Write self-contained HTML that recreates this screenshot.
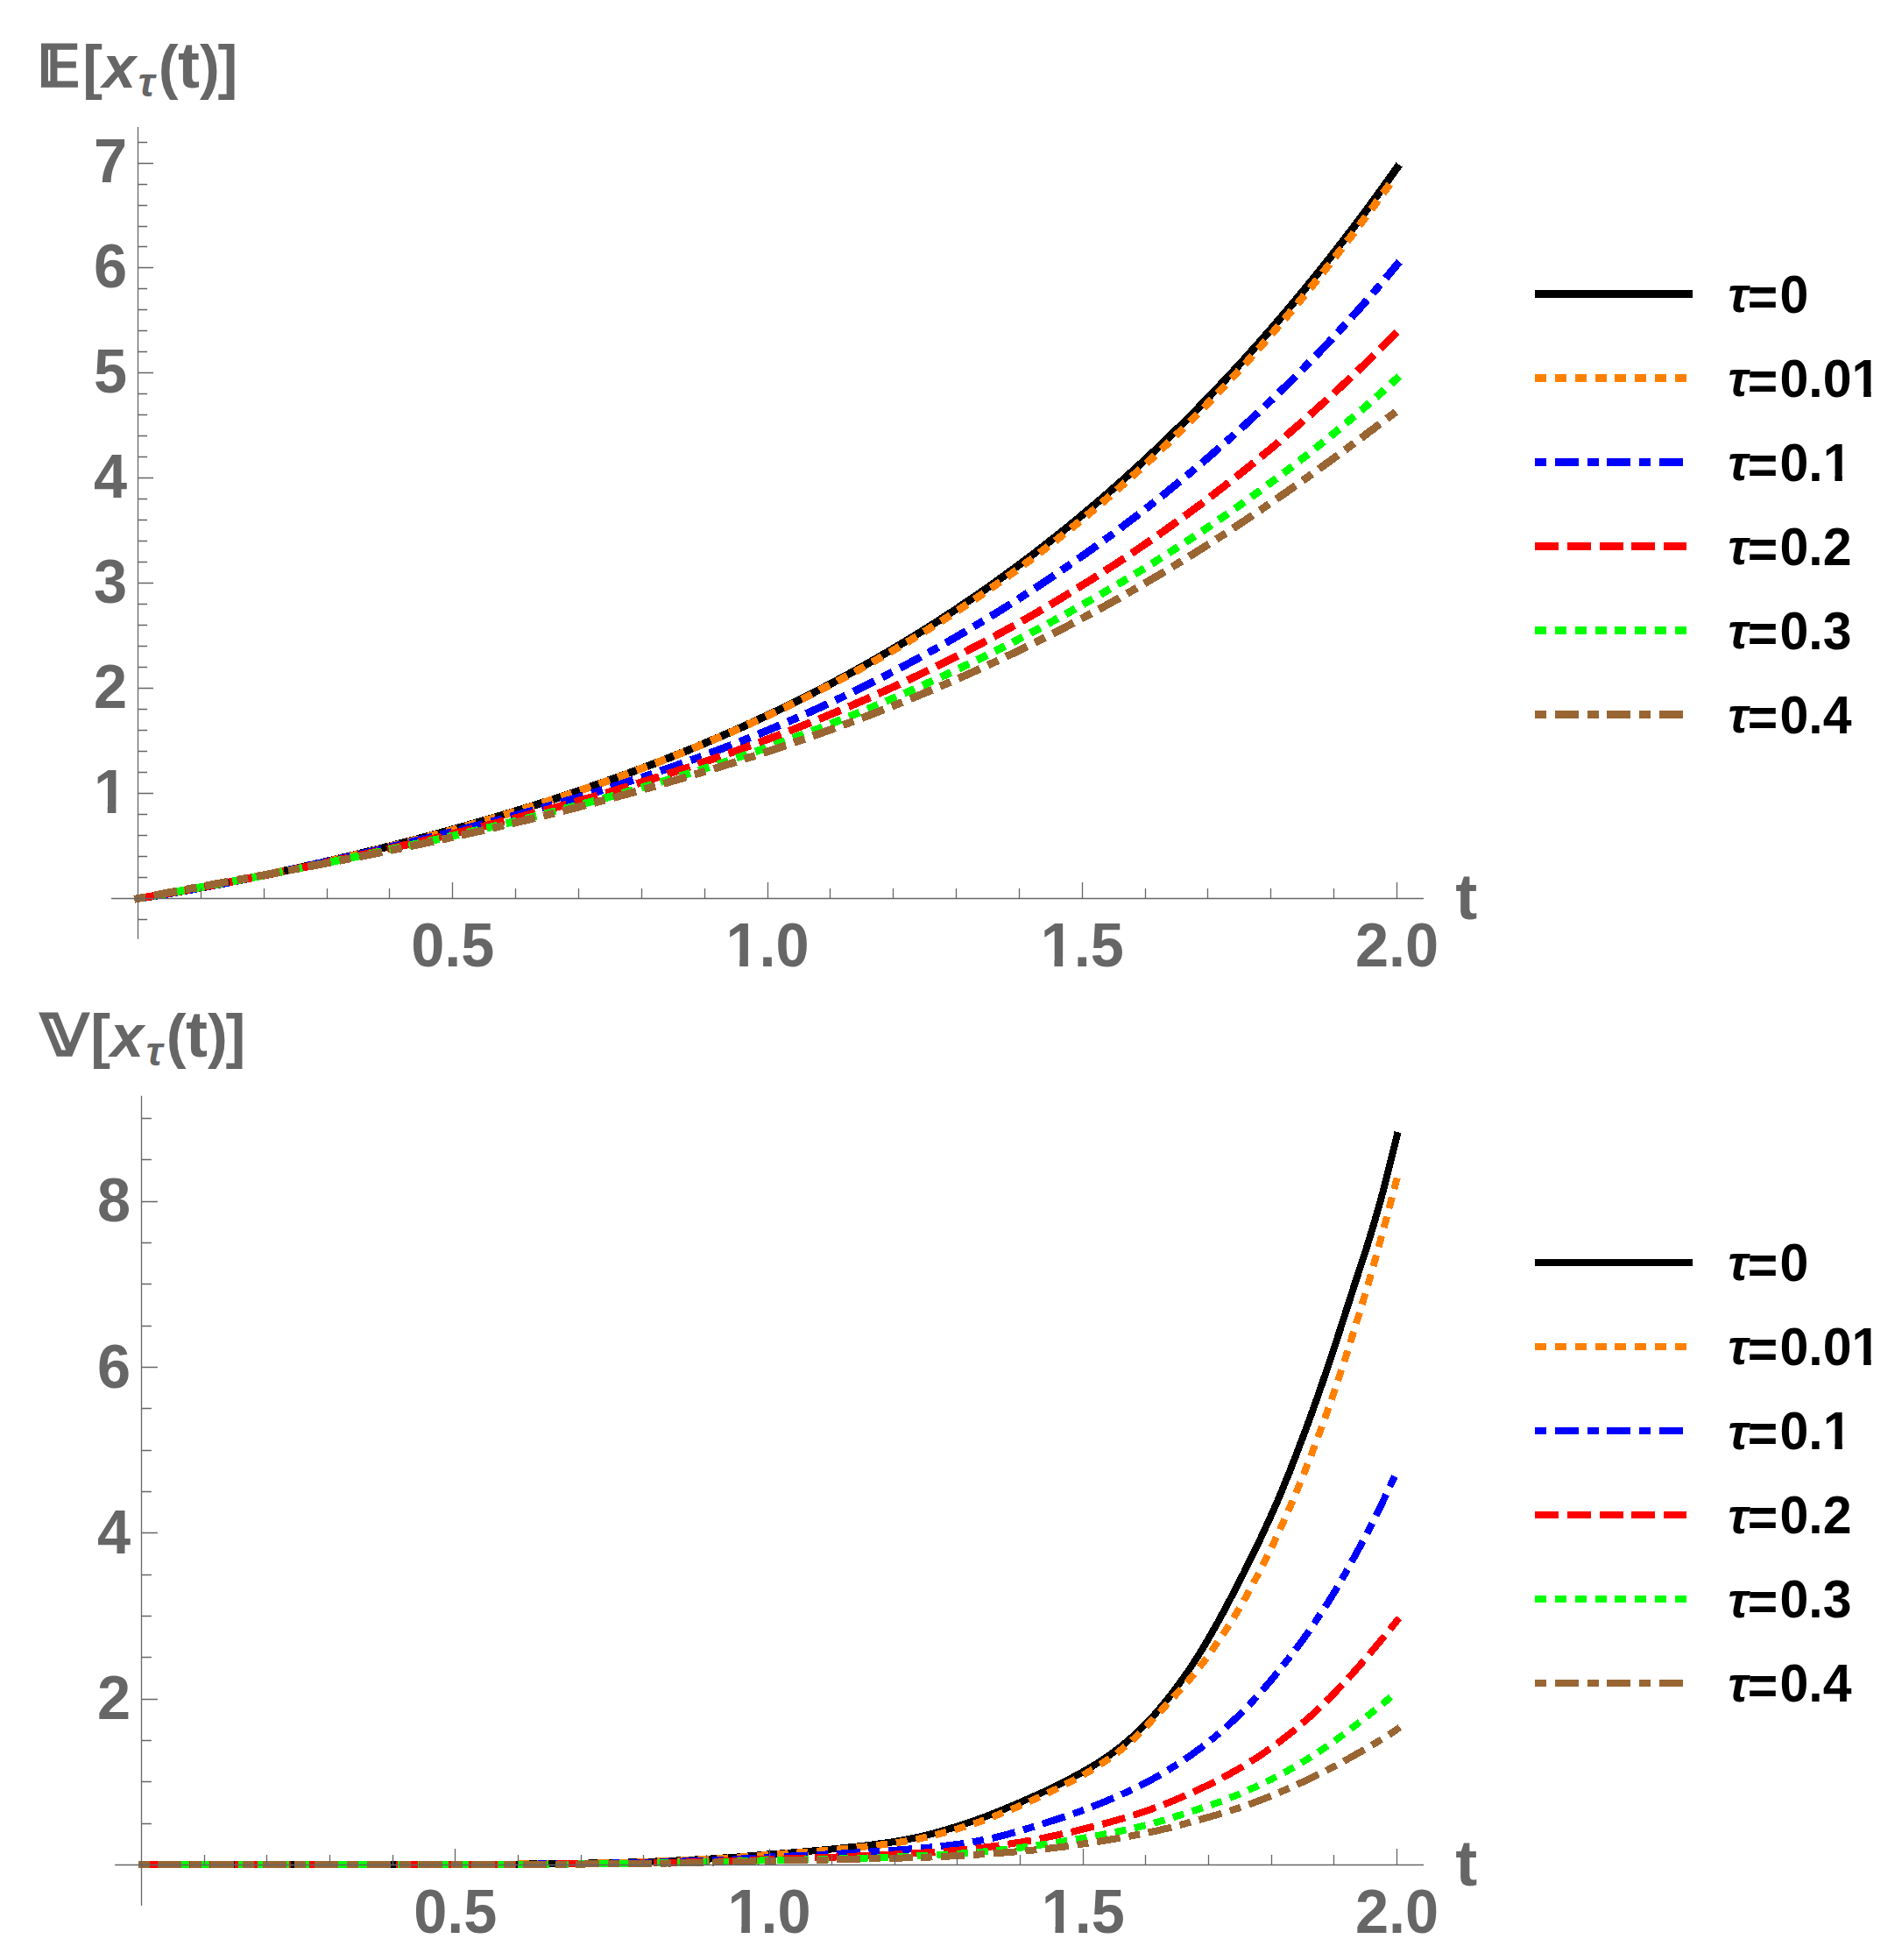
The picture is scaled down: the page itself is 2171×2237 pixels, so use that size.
<!DOCTYPE html>
<html lang="en"><head><meta charset="utf-8"><title>Mean and variance of x_tau(t)</title>
<style>html,body{margin:0;padding:0;background:#fff}svg{display:block}</style></head><body>
<svg width="2171" height="2237" viewBox="0 0 2171 2237">
<rect width="2171" height="2237" fill="#fff"/>
<defs></defs>
<g fill="none" stroke-width="8.8" stroke-linecap="square" stroke-linejoin="round" shape-rendering="crispEdges">
<polyline points="157.5,1025.5 162.0,1024.8 166.5,1024.1 171.0,1023.3 175.5,1022.6 180.0,1021.9 184.4,1021.1 188.9,1020.3 193.4,1019.6 197.9,1018.8 202.4,1018.0 206.9,1017.2 211.4,1016.4 215.9,1015.6 220.4,1014.8 224.9,1014.0 229.4,1013.1 233.8,1012.3 238.3,1011.4 242.8,1010.6 247.3,1009.7 251.8,1008.9 256.3,1008.0 260.8,1007.1 265.3,1006.2 269.8,1005.3 274.3,1004.4 278.7,1003.5 283.2,1002.6 287.7,1001.7 292.2,1000.8 296.7,999.9 301.2,998.9 305.7,998.0 310.2,997.0 314.7,996.1 319.2,995.1 323.7,994.1 328.1,993.2 332.6,992.2 337.1,991.2 341.6,990.2 346.1,989.2 350.6,988.2 355.1,987.2 359.6,986.2 364.1,985.2 368.6,984.1 373.1,983.1 377.5,982.1 382.0,981.0 386.5,980.0 391.0,978.9 395.5,977.8 400.0,976.8 404.5,975.7 409.0,974.6 413.5,973.5 418.0,972.4 422.4,971.3 426.9,970.2 431.4,969.1 435.9,968.0 440.4,966.8 444.9,965.7 449.4,964.6 453.9,963.4 458.4,962.3 462.9,961.1 467.4,959.9 471.8,958.8 476.3,957.6 480.8,956.4 485.3,955.2 489.8,954.0 494.3,952.8 498.8,951.6 503.3,950.4 507.8,949.1 512.3,947.9 516.8,946.6 521.2,945.4 525.7,944.1 530.2,942.9 534.7,941.6 539.2,940.3 543.7,939.0 548.2,937.7 552.7,936.4 557.2,935.1 561.7,933.8 566.1,932.5 570.6,931.1 575.1,929.8 579.6,928.4 584.1,927.1 588.6,925.7 593.1,924.3 597.6,923.0 602.1,921.6 606.6,920.2 611.1,918.7 615.5,917.3 620.0,915.9 624.5,914.5 629.0,913.0 633.5,911.6 638.0,910.1 642.5,908.6 647.0,907.1 651.5,905.6 656.0,904.1 660.5,902.6 664.9,901.1 669.4,899.6 673.9,898.0 678.4,896.5 682.9,894.9 687.4,893.3 691.9,891.7 696.4,890.1 700.9,888.5 705.4,886.9 709.8,885.3 714.3,883.7 718.8,882.0 723.3,880.3 727.8,878.7 732.3,877.0 736.8,875.3 741.3,873.6 745.8,871.9 750.3,870.1 754.8,868.4 759.2,866.6 763.7,864.9 768.2,863.1 772.7,861.3 777.2,859.5 781.7,857.7 786.2,855.9 790.7,854.0 795.2,852.2 799.7,850.3 804.1,848.4 808.6,846.5 813.1,844.6 817.6,842.7 822.1,840.8 826.6,838.8 831.1,836.8 835.6,834.9 840.1,832.9 844.6,830.9 849.1,828.9 853.5,826.8 858.0,824.8 862.5,822.7 867.0,820.6 871.5,818.5 876.0,816.4 880.5,814.3 885.0,812.2 889.5,810.0 894.0,807.8 898.5,805.7 902.9,803.5 907.4,801.2 911.9,799.0 916.4,796.8 920.9,794.5 925.4,792.2 929.9,789.9 934.4,787.6 938.9,785.3 943.4,782.9 947.9,780.6 952.3,778.2 956.8,775.8 961.3,773.4 965.8,770.9 970.3,768.5 974.8,766.0 979.3,763.5 983.8,761.0 988.3,758.5 992.8,755.9 997.2,753.4 1001.7,750.8 1006.2,748.2 1010.7,745.6 1015.2,742.9 1019.7,740.3 1024.2,737.6 1028.7,734.9 1033.2,732.2 1037.7,729.5 1042.2,726.7 1046.6,724.0 1051.1,721.2 1055.6,718.3 1060.1,715.5 1064.6,712.7 1069.1,709.8 1073.6,706.9 1078.1,704.0 1082.6,701.0 1087.1,698.1 1091.6,695.1 1096.0,692.1 1100.5,689.1 1105.0,686.0 1109.5,683.0 1114.0,679.9 1118.5,676.8 1123.0,673.7 1127.5,670.5 1132.0,667.3 1136.5,664.1 1140.9,660.9 1145.4,657.7 1149.9,654.4 1154.4,651.1 1158.9,647.8 1163.4,644.5 1167.9,641.1 1172.4,637.7 1176.9,634.3 1181.4,630.9 1185.9,627.4 1190.3,624.0 1194.8,620.4 1199.3,616.9 1203.8,613.4 1208.3,609.8 1212.8,606.2 1217.3,602.6 1221.8,598.9 1226.3,595.2 1230.8,591.5 1235.2,587.8 1239.7,584.0 1244.2,580.3 1248.7,576.5 1253.2,572.6 1257.7,568.8 1262.2,564.9 1266.7,561.0 1271.2,557.0 1275.7,553.1 1280.2,549.1 1284.6,545.0 1289.1,541.0 1293.6,536.9 1298.1,532.8 1302.6,528.7 1307.1,524.5 1311.6,520.3 1316.1,516.1 1320.6,511.9 1325.1,507.6 1329.6,503.3 1334.0,498.9 1338.5,494.6 1343.0,490.2 1347.5,485.8 1352.0,481.3 1356.5,476.8 1361.0,472.3 1365.5,467.8 1370.0,463.2 1374.5,458.6 1379.0,454.0 1383.4,449.3 1387.9,444.6 1392.4,439.9 1396.9,435.1 1401.4,430.3 1405.9,425.5 1410.4,420.7 1414.9,415.8 1419.4,410.9 1423.9,405.9 1428.3,400.9 1432.8,395.9 1437.3,390.9 1441.8,385.8 1446.3,380.7 1450.8,375.5 1455.3,370.3 1459.8,365.1 1464.3,359.8 1468.8,354.6 1473.3,349.2 1477.7,343.9 1482.2,338.5 1486.7,333.0 1491.2,327.6 1495.7,322.1 1500.2,316.5 1504.7,311.0 1509.2,305.4 1513.7,299.7 1518.2,294.0 1522.7,288.3 1527.1,282.6 1531.6,276.8 1536.1,270.9 1540.6,265.1 1545.1,259.2 1549.6,253.2 1554.1,247.2 1558.6,241.2 1563.1,235.1 1567.6,229.0 1572.0,222.9 1576.5,216.7 1581.0,210.5 1585.5,204.2 1590.0,197.9 1594.5,191.6" stroke="#000000"/>
<polyline points="157.5,1025.5 162.0,1024.7 166.5,1024.0 171.0,1023.2 175.5,1022.4 180.0,1021.6 184.4,1020.8 188.9,1020.0 193.4,1019.2 197.9,1018.4 202.4,1017.6 206.9,1016.8 211.4,1016.0 215.9,1015.2 220.4,1014.4 224.9,1013.5 229.4,1012.7 233.8,1011.9 238.3,1011.0 242.8,1010.2 247.3,1009.3 251.8,1008.5 256.3,1007.6 260.8,1006.7 265.3,1005.9 269.8,1005.0 274.3,1004.1 278.7,1003.2 283.2,1002.3 287.7,1001.4 292.2,1000.5 296.7,999.6 301.2,998.7 305.7,997.8 310.2,996.9 314.7,995.9 319.2,995.0 323.7,994.1 328.1,993.1 332.6,992.2 337.1,991.2 341.6,990.2 346.1,989.2 350.6,988.3 355.1,987.3 359.6,986.3 364.1,985.3 368.6,984.3 373.1,983.3 377.5,982.3 382.0,981.2 386.5,980.2 391.0,979.2 395.5,978.1 400.0,977.1 404.5,976.0 409.0,974.9 413.5,973.9 418.0,972.8 422.4,971.7 426.9,970.6 431.4,969.5 435.9,968.4 440.4,967.3 444.9,966.1 449.4,965.0 453.9,963.9 458.4,962.7 462.9,961.6 467.4,960.4 471.8,959.2 476.3,958.1 480.8,956.9 485.3,955.7 489.8,954.5 494.3,953.3 498.8,952.1 503.3,950.9 507.8,949.6 512.3,948.4 516.8,947.2 521.2,945.9 525.7,944.6 530.2,943.4 534.7,942.1 539.2,940.8 543.7,939.5 548.2,938.2 552.7,936.9 557.2,935.6 561.7,934.3 566.1,932.9 570.6,931.6 575.1,930.2 579.6,928.9 584.1,927.5 588.6,926.1 593.1,924.7 597.6,923.4 602.1,921.9 606.6,920.5 611.1,919.1 615.5,917.7 620.0,916.2 624.5,914.8 629.0,913.3 633.5,911.9 638.0,910.4 642.5,908.9 647.0,907.4 651.5,905.9 656.0,904.4 660.5,902.9 664.9,901.3 669.4,899.8 673.9,898.2 678.4,896.7 682.9,895.1 687.4,893.5 691.9,891.9 696.4,890.3 700.9,888.7 705.4,887.1 709.8,885.5 714.3,883.8 718.8,882.2 723.3,880.5 727.8,878.8 732.3,877.1 736.8,875.4 741.3,873.7 745.8,872.0 750.3,870.3 754.8,868.5 759.2,866.8 763.7,865.0 768.2,863.2 772.7,861.5 777.2,859.7 781.7,857.8 786.2,856.0 790.7,854.2 795.2,852.3 799.7,850.5 804.1,848.6 808.6,846.7 813.1,844.8 817.6,842.9 822.1,841.0 826.6,839.1 831.1,837.1 835.6,835.2 840.1,833.2 844.6,831.2 849.1,829.2 853.5,827.2 858.0,825.2 862.5,823.1 867.0,821.1 871.5,819.0 876.0,816.9 880.5,814.8 885.0,812.7 889.5,810.6 894.0,808.4 898.5,806.3 902.9,804.1 907.4,801.9 911.9,799.7 916.4,797.5 920.9,795.3 925.4,793.1 929.9,790.8 934.4,788.5 938.9,786.2 943.4,783.9 947.9,781.6 952.3,779.3 956.8,776.9 961.3,774.5 965.8,772.2 970.3,769.8 974.8,767.3 979.3,764.9 983.8,762.4 988.3,760.0 992.8,757.5 997.2,755.0 1001.7,752.4 1006.2,749.9 1010.7,747.3 1015.2,744.8 1019.7,742.2 1024.2,739.5 1028.7,736.9 1033.2,734.3 1037.7,731.6 1042.2,728.9 1046.6,726.2 1051.1,723.5 1055.6,720.7 1060.1,717.9 1064.6,715.1 1069.1,712.3 1073.6,709.5 1078.1,706.7 1082.6,703.8 1087.1,700.9 1091.6,698.0 1096.0,695.0 1100.5,692.1 1105.0,689.1 1109.5,686.1 1114.0,683.1 1118.5,680.1 1123.0,677.0 1127.5,673.9 1132.0,670.8 1136.5,667.7 1140.9,664.5 1145.4,661.3 1149.9,658.1 1154.4,654.9 1158.9,651.7 1163.4,648.4 1167.9,645.1 1172.4,641.8 1176.9,638.5 1181.4,635.1 1185.9,631.7 1190.3,628.3 1194.8,624.8 1199.3,621.4 1203.8,617.9 1208.3,614.4 1212.8,610.8 1217.3,607.3 1221.8,603.7 1226.3,600.1 1230.8,596.4 1235.2,592.7 1239.7,589.0 1244.2,585.3 1248.7,581.6 1253.2,577.8 1257.7,574.0 1262.2,570.1 1266.7,566.3 1271.2,562.4 1275.7,558.5 1280.2,554.5 1284.6,550.6 1289.1,546.6 1293.6,542.5 1298.1,538.5 1302.6,534.4 1307.1,530.3 1311.6,526.1 1316.1,521.9 1320.6,517.7 1325.1,513.5 1329.6,509.2 1334.0,504.9 1338.5,500.6 1343.0,496.2 1347.5,491.8 1352.0,487.4 1356.5,483.0 1361.0,478.5 1365.5,474.0 1370.0,469.4 1374.5,464.8 1379.0,460.2 1383.4,455.6 1387.9,450.9 1392.4,446.2 1396.9,441.5 1401.4,436.7 1405.9,431.9 1410.4,427.1 1414.9,422.2 1419.4,417.3 1423.9,412.4 1428.3,407.4 1432.8,402.4 1437.3,397.3 1441.8,392.3 1446.3,387.2 1450.8,382.0 1455.3,376.8 1459.8,371.6 1464.3,366.4 1468.8,361.1 1473.3,355.8 1477.7,350.4 1482.2,345.1 1486.7,339.6 1491.2,334.2 1495.7,328.7 1500.2,323.2 1504.7,317.6 1509.2,312.0 1513.7,306.4 1518.2,300.7 1522.7,295.0 1527.1,289.2 1531.6,283.5 1536.1,277.6 1540.6,271.8 1545.1,265.9 1549.6,260.0 1554.1,254.0 1558.6,248.0 1563.1,242.0 1567.6,235.9 1572.0,229.8 1576.5,223.6 1581.0,217.4 1585.5,211.2 1590.0,205.0 1594.5,198.7" stroke="#ff8000" stroke-dasharray="4.20 18.60"/>
<polyline points="157.5,1025.5 162.0,1024.8 166.5,1024.1 171.0,1023.4 175.5,1022.7 180.0,1022.0 184.4,1021.2 188.9,1020.5 193.4,1019.7 197.9,1018.9 202.4,1018.1 206.9,1017.3 211.4,1016.5 215.9,1015.7 220.4,1014.9 224.9,1014.1 229.4,1013.3 233.8,1012.4 238.3,1011.6 242.8,1010.7 247.3,1009.8 251.8,1009.0 256.3,1008.1 260.8,1007.2 265.3,1006.3 269.8,1005.4 274.3,1004.5 278.7,1003.6 283.2,1002.7 287.7,1001.8 292.2,1000.8 296.7,999.9 301.2,999.0 305.7,998.0 310.2,997.1 314.7,996.1 319.2,995.2 323.7,994.2 328.1,993.3 332.6,992.3 337.1,991.3 341.6,990.4 346.1,989.4 350.6,988.4 355.1,987.4 359.6,986.4 364.1,985.4 368.6,984.4 373.1,983.4 377.5,982.4 382.0,981.4 386.5,980.4 391.0,979.4 395.5,978.4 400.0,977.3 404.5,976.3 409.0,975.3 413.5,974.2 418.0,973.2 422.4,972.2 426.9,971.1 431.4,970.1 435.9,969.0 440.4,967.9 444.9,966.9 449.4,965.8 453.9,964.7 458.4,963.7 462.9,962.6 467.4,961.5 471.8,960.4 476.3,959.3 480.8,958.2 485.3,957.1 489.8,956.0 494.3,954.9 498.8,953.8 503.3,952.7 507.8,951.6 512.3,950.5 516.8,949.3 521.2,948.2 525.7,947.0 530.2,945.9 534.7,944.7 539.2,943.6 543.7,942.4 548.2,941.3 552.7,940.1 557.2,938.9 561.7,937.7 566.1,936.5 570.6,935.3 575.1,934.1 579.6,932.9 584.1,931.7 588.6,930.5 593.1,929.2 597.6,928.0 602.1,926.8 606.6,925.5 611.1,924.3 615.5,923.0 620.0,921.7 624.5,920.4 629.0,919.2 633.5,917.9 638.0,916.6 642.5,915.3 647.0,913.9 651.5,912.6 656.0,911.3 660.5,909.9 664.9,908.6 669.4,907.2 673.9,905.9 678.4,904.5 682.9,903.1 687.4,901.7 691.9,900.3 696.4,898.9 700.9,897.5 705.4,896.1 709.8,894.6 714.3,893.2 718.8,891.7 723.3,890.2 727.8,888.8 732.3,887.3 736.8,885.8 741.3,884.3 745.8,882.7 750.3,881.2 754.8,879.7 759.2,878.1 763.7,876.6 768.2,875.0 772.7,873.4 777.2,871.8 781.7,870.2 786.2,868.6 790.7,867.0 795.2,865.3 799.7,863.7 804.1,862.0 808.6,860.3 813.1,858.6 817.6,856.9 822.1,855.2 826.6,853.5 831.1,851.8 835.6,850.0 840.1,848.2 844.6,846.5 849.1,844.7 853.5,842.9 858.0,841.1 862.5,839.2 867.0,837.4 871.5,835.5 876.0,833.7 880.5,831.8 885.0,829.9 889.5,828.0 894.0,826.1 898.5,824.1 902.9,822.2 907.4,820.2 911.9,818.2 916.4,816.3 920.9,814.2 925.4,812.2 929.9,810.2 934.4,808.1 938.9,806.1 943.4,804.0 947.9,801.9 952.3,799.8 956.8,797.7 961.3,795.6 965.8,793.4 970.3,791.2 974.8,789.1 979.3,786.9 983.8,784.7 988.3,782.4 992.8,780.2 997.2,777.9 1001.7,775.7 1006.2,773.4 1010.7,771.1 1015.2,768.7 1019.7,766.4 1024.2,764.1 1028.7,761.7 1033.2,759.3 1037.7,756.9 1042.2,754.5 1046.6,752.1 1051.1,749.6 1055.6,747.2 1060.1,744.7 1064.6,742.2 1069.1,739.7 1073.6,737.1 1078.1,734.6 1082.6,732.0 1087.1,729.5 1091.6,726.9 1096.0,724.2 1100.5,721.6 1105.0,719.0 1109.5,716.3 1114.0,713.6 1118.5,710.9 1123.0,708.2 1127.5,705.5 1132.0,702.7 1136.5,700.0 1140.9,697.2 1145.4,694.4 1149.9,691.6 1154.4,688.7 1158.9,685.9 1163.4,683.0 1167.9,680.1 1172.4,677.2 1176.9,674.3 1181.4,671.3 1185.9,668.4 1190.3,665.4 1194.8,662.4 1199.3,659.4 1203.8,656.4 1208.3,653.3 1212.8,650.2 1217.3,647.1 1221.8,644.0 1226.3,640.9 1230.8,637.7 1235.2,634.6 1239.7,631.4 1244.2,628.2 1248.7,625.0 1253.2,621.7 1257.7,618.4 1262.2,615.2 1266.7,611.9 1271.2,608.5 1275.7,605.2 1280.2,601.8 1284.6,598.4 1289.1,595.0 1293.6,591.6 1298.1,588.1 1302.6,584.7 1307.1,581.2 1311.6,577.7 1316.1,574.1 1320.6,570.6 1325.1,567.0 1329.6,563.4 1334.0,559.8 1338.5,556.1 1343.0,552.4 1347.5,548.7 1352.0,545.0 1356.5,541.3 1361.0,537.5 1365.5,533.7 1370.0,529.9 1374.5,526.1 1379.0,522.2 1383.4,518.4 1387.9,514.4 1392.4,510.5 1396.9,506.6 1401.4,502.6 1405.9,498.6 1410.4,494.5 1414.9,490.5 1419.4,486.4 1423.9,482.3 1428.3,478.1 1432.8,473.9 1437.3,469.7 1441.8,465.5 1446.3,461.3 1450.8,457.0 1455.3,452.7 1459.8,448.3 1464.3,443.9 1468.8,439.5 1473.3,435.1 1477.7,430.6 1482.2,426.1 1486.7,421.6 1491.2,417.0 1495.7,412.4 1500.2,407.8 1504.7,403.2 1509.2,398.5 1513.7,393.7 1518.2,389.0 1522.7,384.2 1527.1,379.3 1531.6,374.5 1536.1,369.6 1540.6,364.6 1545.1,359.6 1549.6,354.6 1554.1,349.5 1558.6,344.4 1563.1,339.3 1567.6,334.1 1572.0,328.9 1576.5,323.6 1581.0,318.3 1585.5,313.0 1590.0,307.6 1594.5,302.1" stroke="#0000ff" stroke-dasharray="4.20 18.60 18.20 18.60"/>
<polyline points="157.5,1025.5 162.0,1024.8 166.5,1024.0 171.0,1023.2 175.5,1022.5 180.0,1021.7 184.4,1020.9 188.9,1020.2 193.4,1019.4 197.9,1018.6 202.4,1017.8 206.9,1017.0 211.4,1016.2 215.9,1015.4 220.4,1014.6 224.9,1013.7 229.4,1012.9 233.8,1012.1 238.3,1011.2 242.8,1010.4 247.3,1009.6 251.8,1008.7 256.3,1007.9 260.8,1007.0 265.3,1006.1 269.8,1005.3 274.3,1004.4 278.7,1003.5 283.2,1002.7 287.7,1001.8 292.2,1000.9 296.7,1000.0 301.2,999.1 305.7,998.2 310.2,997.3 314.7,996.4 319.2,995.5 323.7,994.6 328.1,993.7 332.6,992.7 337.1,991.8 341.6,990.9 346.1,990.0 350.6,989.0 355.1,988.1 359.6,987.1 364.1,986.2 368.6,985.2 373.1,984.3 377.5,983.3 382.0,982.4 386.5,981.4 391.0,980.4 395.5,979.5 400.0,978.5 404.5,977.5 409.0,976.5 413.5,975.5 418.0,974.5 422.4,973.6 426.9,972.6 431.4,971.5 435.9,970.5 440.4,969.5 444.9,968.5 449.4,967.5 453.9,966.5 458.4,965.4 462.9,964.4 467.4,963.4 471.8,962.3 476.3,961.3 480.8,960.2 485.3,959.2 489.8,958.1 494.3,957.1 498.8,956.0 503.3,954.9 507.8,953.8 512.3,952.8 516.8,951.7 521.2,950.6 525.7,949.5 530.2,948.4 534.7,947.3 539.2,946.2 543.7,945.1 548.2,943.9 552.7,942.8 557.2,941.7 561.7,940.5 566.1,939.4 570.6,938.3 575.1,937.1 579.6,935.9 584.1,934.8 588.6,933.6 593.1,932.4 597.6,931.3 602.1,930.1 606.6,928.9 611.1,927.7 615.5,926.5 620.0,925.3 624.5,924.1 629.0,922.8 633.5,921.6 638.0,920.4 642.5,919.1 647.0,917.9 651.5,916.6 656.0,915.4 660.5,914.1 664.9,912.8 669.4,911.5 673.9,910.3 678.4,909.0 682.9,907.7 687.4,906.3 691.9,905.0 696.4,903.7 700.9,902.4 705.4,901.0 709.8,899.7 714.3,898.3 718.8,897.0 723.3,895.6 727.8,894.2 732.3,892.8 736.8,891.4 741.3,890.0 745.8,888.6 750.3,887.2 754.8,885.8 759.2,884.4 763.7,882.9 768.2,881.5 772.7,880.0 777.2,878.5 781.7,877.1 786.2,875.6 790.7,874.1 795.2,872.6 799.7,871.0 804.1,869.5 808.6,868.0 813.1,866.5 817.6,864.9 822.1,863.3 826.6,861.8 831.1,860.2 835.6,858.6 840.1,857.0 844.6,855.4 849.1,853.8 853.5,852.1 858.0,850.5 862.5,848.8 867.0,847.2 871.5,845.5 876.0,843.8 880.5,842.1 885.0,840.4 889.5,838.7 894.0,837.0 898.5,835.3 902.9,833.5 907.4,831.8 911.9,830.0 916.4,828.2 920.9,826.4 925.4,824.6 929.9,822.8 934.4,821.0 938.9,819.1 943.4,817.3 947.9,815.4 952.3,813.6 956.8,811.7 961.3,809.8 965.8,807.9 970.3,806.0 974.8,804.0 979.3,802.1 983.8,800.1 988.3,798.1 992.8,796.2 997.2,794.2 1001.7,792.2 1006.2,790.1 1010.7,788.1 1015.2,786.1 1019.7,784.0 1024.2,781.9 1028.7,779.8 1033.2,777.7 1037.7,775.6 1042.2,773.5 1046.6,771.4 1051.1,769.2 1055.6,767.0 1060.1,764.8 1064.6,762.6 1069.1,760.4 1073.6,758.2 1078.1,756.0 1082.6,753.7 1087.1,751.5 1091.6,749.2 1096.0,746.9 1100.5,744.6 1105.0,742.2 1109.5,739.9 1114.0,737.5 1118.5,735.2 1123.0,732.8 1127.5,730.4 1132.0,728.0 1136.5,725.5 1140.9,723.1 1145.4,720.6 1149.9,718.2 1154.4,715.7 1158.9,713.2 1163.4,710.6 1167.9,708.1 1172.4,705.5 1176.9,703.0 1181.4,700.4 1185.9,697.8 1190.3,695.2 1194.8,692.5 1199.3,689.9 1203.8,687.2 1208.3,684.5 1212.8,681.8 1217.3,679.1 1221.8,676.3 1226.3,673.6 1230.8,670.8 1235.2,668.0 1239.7,665.2 1244.2,662.4 1248.7,659.6 1253.2,656.7 1257.7,653.8 1262.2,650.9 1266.7,648.0 1271.2,645.1 1275.7,642.1 1280.2,639.2 1284.6,636.2 1289.1,633.2 1293.6,630.2 1298.1,627.1 1302.6,624.1 1307.1,621.0 1311.6,617.9 1316.1,614.8 1320.6,611.6 1325.1,608.5 1329.6,605.3 1334.0,602.1 1338.5,598.9 1343.0,595.7 1347.5,592.4 1352.0,589.1 1356.5,585.9 1361.0,582.5 1365.5,579.2 1370.0,575.9 1374.5,572.5 1379.0,569.1 1383.4,565.7 1387.9,562.2 1392.4,558.8 1396.9,555.3 1401.4,551.8 1405.9,548.3 1410.4,544.7 1414.9,541.2 1419.4,537.6 1423.9,534.0 1428.3,530.4 1432.8,526.7 1437.3,523.0 1441.8,519.3 1446.3,515.6 1450.8,511.9 1455.3,508.1 1459.8,504.3 1464.3,500.5 1468.8,496.7 1473.3,492.8 1477.7,488.9 1482.2,485.0 1486.7,481.1 1491.2,477.1 1495.7,473.2 1500.2,469.2 1504.7,465.1 1509.2,461.1 1513.7,457.0 1518.2,452.9 1522.7,448.8 1527.1,444.6 1531.6,440.4 1536.1,436.2 1540.6,432.0 1545.1,427.7 1549.6,423.5 1554.1,419.1 1558.6,414.8 1563.1,410.4 1567.6,406.1 1572.0,401.6 1576.5,397.2 1581.0,392.7 1585.5,388.2 1590.0,383.7 1594.5,379.1" stroke="#ff0000" stroke-dasharray="18.20 18.60"/>
<polyline points="157.5,1025.5 162.0,1024.7 166.5,1023.9 171.0,1023.2 175.5,1022.4 180.0,1021.6 184.4,1020.8 188.9,1020.0 193.4,1019.2 197.9,1018.4 202.4,1017.5 206.9,1016.7 211.4,1015.9 215.9,1015.1 220.4,1014.3 224.9,1013.4 229.4,1012.6 233.8,1011.8 238.3,1010.9 242.8,1010.1 247.3,1009.3 251.8,1008.4 256.3,1007.6 260.8,1006.7 265.3,1005.9 269.8,1005.0 274.3,1004.1 278.7,1003.3 283.2,1002.4 287.7,1001.6 292.2,1000.7 296.7,999.8 301.2,999.0 305.7,998.1 310.2,997.2 314.7,996.3 319.2,995.4 323.7,994.6 328.1,993.7 332.6,992.8 337.1,991.9 341.6,991.0 346.1,990.1 350.6,989.2 355.1,988.3 359.6,987.4 364.1,986.5 368.6,985.6 373.1,984.7 377.5,983.8 382.0,982.8 386.5,981.9 391.0,981.0 395.5,980.1 400.0,979.2 404.5,978.2 409.0,977.3 413.5,976.4 418.0,975.4 422.4,974.5 426.9,973.5 431.4,972.6 435.9,971.6 440.4,970.7 444.9,969.7 449.4,968.8 453.9,967.8 458.4,966.8 462.9,965.9 467.4,964.9 471.8,963.9 476.3,963.0 480.8,962.0 485.3,961.0 489.8,960.0 494.3,959.0 498.8,958.0 503.3,957.0 507.8,956.0 512.3,955.0 516.8,954.0 521.2,953.0 525.7,951.9 530.2,950.9 534.7,949.9 539.2,948.8 543.7,947.8 548.2,946.7 552.7,945.7 557.2,944.6 561.7,943.6 566.1,942.5 570.6,941.5 575.1,940.4 579.6,939.3 584.1,938.2 588.6,937.1 593.1,936.0 597.6,934.9 602.1,933.8 606.6,932.7 611.1,931.6 615.5,930.5 620.0,929.3 624.5,928.2 629.0,927.1 633.5,925.9 638.0,924.8 642.5,923.6 647.0,922.4 651.5,921.3 656.0,920.1 660.5,918.9 664.9,917.7 669.4,916.5 673.9,915.3 678.4,914.1 682.9,912.9 687.4,911.6 691.9,910.4 696.4,909.2 700.9,907.9 705.4,906.7 709.8,905.4 714.3,904.1 718.8,902.9 723.3,901.6 727.8,900.3 732.3,899.0 736.8,897.7 741.3,896.4 745.8,895.0 750.3,893.7 754.8,892.4 759.2,891.0 763.7,889.7 768.2,888.3 772.7,886.9 777.2,885.5 781.7,884.2 786.2,882.8 790.7,881.4 795.2,879.9 799.7,878.5 804.1,877.1 808.6,875.6 813.1,874.2 817.6,872.7 822.1,871.3 826.6,869.8 831.1,868.3 835.6,866.8 840.1,865.3 844.6,863.8 849.1,862.3 853.5,860.7 858.0,859.2 862.5,857.6 867.0,856.1 871.5,854.5 876.0,852.9 880.5,851.3 885.0,849.7 889.5,848.1 894.0,846.5 898.5,844.9 902.9,843.2 907.4,841.6 911.9,839.9 916.4,838.2 920.9,836.6 925.4,834.9 929.9,833.2 934.4,831.5 938.9,829.7 943.4,828.0 947.9,826.3 952.3,824.5 956.8,822.7 961.3,821.0 965.8,819.2 970.3,817.4 974.8,815.6 979.3,813.7 983.8,811.9 988.3,810.1 992.8,808.2 997.2,806.4 1001.7,804.5 1006.2,802.6 1010.7,800.7 1015.2,798.8 1019.7,796.9 1024.2,794.9 1028.7,793.0 1033.2,791.0 1037.7,789.1 1042.2,787.1 1046.6,785.1 1051.1,783.1 1055.6,781.1 1060.1,779.1 1064.6,777.0 1069.1,775.0 1073.6,772.9 1078.1,770.8 1082.6,768.8 1087.1,766.7 1091.6,764.6 1096.0,762.4 1100.5,760.3 1105.0,758.2 1109.5,756.0 1114.0,753.8 1118.5,751.7 1123.0,749.5 1127.5,747.3 1132.0,745.0 1136.5,742.8 1140.9,740.6 1145.4,738.3 1149.9,736.0 1154.4,733.7 1158.9,731.5 1163.4,729.1 1167.9,726.8 1172.4,724.5 1176.9,722.1 1181.4,719.8 1185.9,717.4 1190.3,715.0 1194.8,712.6 1199.3,710.2 1203.8,707.8 1208.3,705.3 1212.8,702.9 1217.3,700.4 1221.8,697.9 1226.3,695.4 1230.8,692.9 1235.2,690.4 1239.7,687.9 1244.2,685.3 1248.7,682.7 1253.2,680.2 1257.7,677.6 1262.2,674.9 1266.7,672.3 1271.2,669.7 1275.7,667.0 1280.2,664.4 1284.6,661.7 1289.1,659.0 1293.6,656.3 1298.1,653.5 1302.6,650.8 1307.1,648.0 1311.6,645.3 1316.1,642.5 1320.6,639.7 1325.1,636.8 1329.6,634.0 1334.0,631.1 1338.5,628.3 1343.0,625.4 1347.5,622.5 1352.0,619.5 1356.5,616.6 1361.0,613.7 1365.5,610.7 1370.0,607.7 1374.5,604.7 1379.0,601.7 1383.4,598.6 1387.9,595.6 1392.4,592.5 1396.9,589.4 1401.4,586.3 1405.9,583.1 1410.4,580.0 1414.9,576.8 1419.4,573.6 1423.9,570.4 1428.3,567.2 1432.8,563.9 1437.3,560.7 1441.8,557.4 1446.3,554.1 1450.8,550.7 1455.3,547.4 1459.8,544.0 1464.3,540.6 1468.8,537.2 1473.3,533.8 1477.7,530.3 1482.2,526.8 1486.7,523.3 1491.2,519.8 1495.7,516.3 1500.2,512.7 1504.7,509.1 1509.2,505.5 1513.7,501.8 1518.2,498.2 1522.7,494.5 1527.1,490.8 1531.6,487.0 1536.1,483.3 1540.6,479.5 1545.1,475.7 1549.6,471.8 1554.1,468.0 1558.6,464.1 1563.1,460.1 1567.6,456.2 1572.0,452.2 1576.5,448.2 1581.0,444.2 1585.5,440.1 1590.0,436.0 1594.5,431.9" stroke="#00ff00" stroke-dasharray="4.20 18.60"/>
<polyline points="157.5,1025.5 162.0,1024.6 166.5,1023.8 171.0,1022.9 175.5,1022.0 180.0,1021.2 184.4,1020.3 188.9,1019.5 193.4,1018.6 197.9,1017.8 202.4,1016.9 206.9,1016.1 211.4,1015.3 215.9,1014.4 220.4,1013.6 224.9,1012.7 229.4,1011.9 233.8,1011.1 238.3,1010.3 242.8,1009.4 247.3,1008.6 251.8,1007.8 256.3,1006.9 260.8,1006.1 265.3,1005.3 269.8,1004.5 274.3,1003.6 278.7,1002.8 283.2,1002.0 287.7,1001.1 292.2,1000.3 296.7,999.5 301.2,998.7 305.7,997.8 310.2,997.0 314.7,996.1 319.2,995.3 323.7,994.5 328.1,993.6 332.6,992.8 337.1,991.9 341.6,991.1 346.1,990.2 350.6,989.4 355.1,988.5 359.6,987.7 364.1,986.8 368.6,985.9 373.1,985.1 377.5,984.2 382.0,983.3 386.5,982.4 391.0,981.6 395.5,980.7 400.0,979.8 404.5,978.9 409.0,978.0 413.5,977.1 418.0,976.2 422.4,975.3 426.9,974.4 431.4,973.5 435.9,972.6 440.4,971.7 444.9,970.7 449.4,969.8 453.9,968.9 458.4,967.9 462.9,967.0 467.4,966.1 471.8,965.1 476.3,964.2 480.8,963.2 485.3,962.2 489.8,961.3 494.3,960.3 498.8,959.3 503.3,958.4 507.8,957.4 512.3,956.4 516.8,955.4 521.2,954.4 525.7,953.4 530.2,952.4 534.7,951.4 539.2,950.4 543.7,949.3 548.2,948.3 552.7,947.3 557.2,946.2 561.7,945.2 566.1,944.2 570.6,943.1 575.1,942.0 579.6,941.0 584.1,939.9 588.6,938.8 593.1,937.8 597.6,936.7 602.1,935.6 606.6,934.5 611.1,933.4 615.5,932.3 620.0,931.2 624.5,930.1 629.0,929.0 633.5,927.8 638.0,926.7 642.5,925.6 647.0,924.4 651.5,923.3 656.0,922.1 660.5,921.0 664.9,919.8 669.4,918.6 673.9,917.5 678.4,916.3 682.9,915.1 687.4,913.9 691.9,912.7 696.4,911.5 700.9,910.3 705.4,909.1 709.8,907.8 714.3,906.6 718.8,905.4 723.3,904.1 727.8,902.9 732.3,901.6 736.8,900.4 741.3,899.1 745.8,897.8 750.3,896.5 754.8,895.2 759.2,893.9 763.7,892.6 768.2,891.3 772.7,890.0 777.2,888.7 781.7,887.4 786.2,886.0 790.7,884.7 795.2,883.3 799.7,882.0 804.1,880.6 808.6,879.3 813.1,877.9 817.6,876.5 822.1,875.1 826.6,873.7 831.1,872.3 835.6,870.9 840.1,869.5 844.6,868.0 849.1,866.6 853.5,865.1 858.0,863.7 862.5,862.2 867.0,860.8 871.5,859.3 876.0,857.8 880.5,856.3 885.0,854.8 889.5,853.3 894.0,851.8 898.5,850.2 902.9,848.7 907.4,847.2 911.9,845.6 916.4,844.0 920.9,842.5 925.4,840.9 929.9,839.3 934.4,837.7 938.9,836.1 943.4,834.5 947.9,832.9 952.3,831.2 956.8,829.6 961.3,827.9 965.8,826.3 970.3,824.6 974.8,822.9 979.3,821.2 983.8,819.5 988.3,817.8 992.8,816.1 997.2,814.3 1001.7,812.6 1006.2,810.8 1010.7,809.1 1015.2,807.3 1019.7,805.5 1024.2,803.7 1028.7,801.9 1033.2,800.1 1037.7,798.3 1042.2,796.4 1046.6,794.6 1051.1,792.7 1055.6,790.8 1060.1,789.0 1064.6,787.1 1069.1,785.2 1073.6,783.2 1078.1,781.3 1082.6,779.4 1087.1,777.4 1091.6,775.4 1096.0,773.5 1100.5,771.5 1105.0,769.5 1109.5,767.5 1114.0,765.4 1118.5,763.4 1123.0,761.3 1127.5,759.3 1132.0,757.2 1136.5,755.1 1140.9,753.0 1145.4,750.9 1149.9,748.7 1154.4,746.6 1158.9,744.5 1163.4,742.3 1167.9,740.1 1172.4,737.9 1176.9,735.7 1181.4,733.5 1185.9,731.2 1190.3,729.0 1194.8,726.7 1199.3,724.4 1203.8,722.2 1208.3,719.8 1212.8,717.5 1217.3,715.2 1221.8,712.8 1226.3,710.5 1230.8,708.1 1235.2,705.7 1239.7,703.3 1244.2,700.9 1248.7,698.5 1253.2,696.0 1257.7,693.6 1262.2,691.1 1266.7,688.6 1271.2,686.1 1275.7,683.6 1280.2,681.0 1284.6,678.5 1289.1,675.9 1293.6,673.3 1298.1,670.7 1302.6,668.1 1307.1,665.5 1311.6,662.9 1316.1,660.2 1320.6,657.6 1325.1,654.9 1329.6,652.2 1334.0,649.5 1338.5,646.7 1343.0,644.0 1347.5,641.2 1352.0,638.5 1356.5,635.7 1361.0,632.9 1365.5,630.1 1370.0,627.2 1374.5,624.4 1379.0,621.5 1383.4,618.7 1387.9,615.8 1392.4,612.9 1396.9,610.0 1401.4,607.0 1405.9,604.1 1410.4,601.1 1414.9,598.1 1419.4,595.2 1423.9,592.2 1428.3,589.1 1432.8,586.1 1437.3,583.1 1441.8,580.0 1446.3,576.9 1450.8,573.9 1455.3,570.8 1459.8,567.6 1464.3,564.5 1468.8,561.4 1473.3,558.2 1477.7,555.1 1482.2,551.9 1486.7,548.7 1491.2,545.5 1495.7,542.3 1500.2,539.1 1504.7,535.8 1509.2,532.6 1513.7,529.3 1518.2,526.1 1522.7,522.8 1527.1,519.5 1531.6,516.2 1536.1,512.9 1540.6,509.6 1545.1,506.3 1549.6,502.9 1554.1,499.6 1558.6,496.2 1563.1,492.8 1567.6,489.5 1572.0,486.1 1576.5,482.7 1581.0,479.3 1585.5,475.9 1590.0,472.5 1594.5,469.1" stroke="#996633" stroke-dasharray="4.20 18.60 18.20 18.60"/>
</g>
<g stroke="#666666" stroke-width="1.3" fill="none">
<line x1="127.1" y1="1025.5" x2="1625.0" y2="1025.5"/>
<line x1="157.5" y1="145.1" x2="157.5" y2="1071.8"/>
<path d="M229.50 1025.5v-11.5M301.50 1025.5v-11.5M373.50 1025.5v-11.5M444.50 1025.5v-11.5M516.50 1025.5v-18.5M588.50 1025.5v-11.5M660.50 1025.5v-11.5M732.50 1025.5v-11.5M804.50 1025.5v-11.5M876.50 1025.5v-18.5M947.50 1025.5v-11.5M1019.50 1025.5v-11.5M1091.50 1025.5v-11.5M1163.50 1025.5v-11.5M1235.50 1025.5v-18.5M1307.50 1025.5v-11.5M1378.50 1025.5v-11.5M1450.50 1025.5v-11.5M1522.50 1025.5v-11.5M1594.50 1025.5v-18.5M157.5 1049.50h10.6M157.5 1001.50h10.6M157.5 977.50h10.6M157.5 953.50h10.6M157.5 929.50h10.6M157.5 905.50h17.6M157.5 881.50h10.6M157.5 857.50h10.6M157.5 833.50h10.6M157.5 809.50h10.6M157.5 785.50h17.6M157.5 761.50h10.6M157.5 737.50h10.6M157.5 713.50h10.6M157.5 689.50h10.6M157.5 665.50h17.6M157.5 641.50h10.6M157.5 617.50h10.6M157.5 593.50h10.6M157.5 569.50h10.6M157.5 545.50h17.6M157.5 521.50h10.6M157.5 497.50h10.6M157.5 473.50h10.6M157.5 449.50h10.6M157.5 425.50h17.6M157.5 401.50h10.6M157.5 377.50h10.6M157.5 353.50h10.6M157.5 329.50h10.6M157.5 305.50h17.6M157.5 281.50h10.6M157.5 258.50h10.6M157.5 234.50h10.6M157.5 210.50h10.6M157.5 186.50h17.6M157.5 162.50h10.6"/>
</g>
<text transform="translate(469.14,1102.50) scale(1.0000,1.0400)" font-family="Liberation Sans, sans-serif" font-size="68.5" font-weight="bold" text-anchor="start" fill="#666666">0.5</text>
<text transform="translate(828.39,1102.50) scale(1.0000,1.0400)" font-family="Liberation Sans, sans-serif" font-size="68.5" font-weight="bold" text-anchor="start" fill="#666666">1.0</text>
<rect x="831.50" y="1094.33" width="12.72" height="9.07" fill="#fff"/>
<rect x="853.92" y="1094.33" width="11.85" height="9.07" fill="#fff"/>
<text transform="translate(1187.64,1102.50) scale(1.0000,1.0400)" font-family="Liberation Sans, sans-serif" font-size="68.5" font-weight="bold" text-anchor="start" fill="#666666">1.5</text>
<rect x="1190.75" y="1094.33" width="12.72" height="9.07" fill="#fff"/>
<rect x="1213.17" y="1094.33" width="11.85" height="9.07" fill="#fff"/>
<text transform="translate(1546.89,1102.50) scale(1.0000,1.0400)" font-family="Liberation Sans, sans-serif" font-size="68.5" font-weight="bold" text-anchor="start" fill="#666666">2.0</text>
<text transform="translate(106.90,927.98) scale(1.0000,1.0400)" font-family="Liberation Sans, sans-serif" font-size="68.5" font-weight="bold" text-anchor="start" fill="#666666">1</text>
<rect x="110.02" y="919.81" width="12.72" height="9.07" fill="#fff"/>
<rect x="132.44" y="919.81" width="11.85" height="9.07" fill="#fff"/>
<text transform="translate(106.90,808.06) scale(1.0000,1.0400)" font-family="Liberation Sans, sans-serif" font-size="68.5" font-weight="bold" text-anchor="start" fill="#666666">2</text>
<text transform="translate(106.90,688.14) scale(1.0000,1.0400)" font-family="Liberation Sans, sans-serif" font-size="68.5" font-weight="bold" text-anchor="start" fill="#666666">3</text>
<text transform="translate(106.90,568.22) scale(1.0000,1.0400)" font-family="Liberation Sans, sans-serif" font-size="68.5" font-weight="bold" text-anchor="start" fill="#666666">4</text>
<text transform="translate(106.90,448.30) scale(1.0000,1.0400)" font-family="Liberation Sans, sans-serif" font-size="68.5" font-weight="bold" text-anchor="start" fill="#666666">5</text>
<text transform="translate(106.90,328.38) scale(1.0000,1.0400)" font-family="Liberation Sans, sans-serif" font-size="68.5" font-weight="bold" text-anchor="start" fill="#666666">6</text>
<text transform="translate(106.90,208.46) scale(1.0000,1.0400)" font-family="Liberation Sans, sans-serif" font-size="68.5" font-weight="bold" text-anchor="start" fill="#666666">7</text>
<text transform="translate(1661.30,1048.70)" font-family="Liberation Sans, sans-serif" font-size="75" font-weight="bold" text-anchor="start" fill="#666666">t</text>
<g fill="none" stroke-width="8.8" stroke-linecap="butt" shape-rendering="crispEdges">
<line x1="1752" y1="335.40" x2="1932" y2="335.40" stroke="#000000"/>
<line x1="1752" y1="431.40" x2="1925" y2="431.40" stroke="#ff8000" stroke-dasharray="13 9.85"/>
<line x1="1752" y1="527.40" x2="1921" y2="527.40" stroke="#0000ff" stroke-dasharray="13 9.8 27 9.8"/>
<line x1="1752" y1="623.40" x2="1925" y2="623.40" stroke="#ff0000" stroke-dasharray="27 9.75"/>
<line x1="1752" y1="719.40" x2="1925" y2="719.40" stroke="#00ff00" stroke-dasharray="13 9.85"/>
<line x1="1752" y1="815.40" x2="1921" y2="815.40" stroke="#996633" stroke-dasharray="13 9.8 27 9.8"/>
</g>
<text transform="translate(0,356.50) scale(1,1.035)" font-family="Liberation Sans, sans-serif" font-size="59" font-weight="bold" fill="#000"><tspan x="1972.4" y="-0.58" font-style="italic" font-size="56">τ</tspan><tspan x="1994.65" y="2.90">=</tspan><tspan x="2031.56" y="0">0</tspan></text>
<text transform="translate(0,452.50) scale(1,1.035)" font-family="Liberation Sans, sans-serif" font-size="59" font-weight="bold" fill="#000"><tspan x="1972.4" y="-0.58" font-style="italic" font-size="56">τ</tspan><tspan x="1994.65" y="2.90">=</tspan><tspan x="2031.56" y="0">0.01</tspan></text>
<rect x="2116.10" y="445.37" width="11.10" height="8.03" fill="#fff"/>
<rect x="2135.60" y="445.37" width="10.35" height="8.03" fill="#fff"/>
<text transform="translate(0,548.50) scale(1,1.035)" font-family="Liberation Sans, sans-serif" font-size="59" font-weight="bold" fill="#000"><tspan x="1972.4" y="-0.58" font-style="italic" font-size="56">τ</tspan><tspan x="1994.65" y="2.90">=</tspan><tspan x="2031.56" y="0">0.1</tspan></text>
<rect x="2083.28" y="541.37" width="11.10" height="8.03" fill="#fff"/>
<rect x="2102.78" y="541.37" width="10.35" height="8.03" fill="#fff"/>
<text transform="translate(0,644.50) scale(1,1.035)" font-family="Liberation Sans, sans-serif" font-size="59" font-weight="bold" fill="#000"><tspan x="1972.4" y="-0.58" font-style="italic" font-size="56">τ</tspan><tspan x="1994.65" y="2.90">=</tspan><tspan x="2031.56" y="0">0.2</tspan></text>
<text transform="translate(0,740.50) scale(1,1.035)" font-family="Liberation Sans, sans-serif" font-size="59" font-weight="bold" fill="#000"><tspan x="1972.4" y="-0.58" font-style="italic" font-size="56">τ</tspan><tspan x="1994.65" y="2.90">=</tspan><tspan x="2031.56" y="0">0.3</tspan></text>
<text transform="translate(0,836.50) scale(1,1.035)" font-family="Liberation Sans, sans-serif" font-size="59" font-weight="bold" fill="#000"><tspan x="1972.4" y="-0.58" font-style="italic" font-size="56">τ</tspan><tspan x="1994.65" y="2.90">=</tspan><tspan x="2031.56" y="0">0.4</tspan></text>
<g fill="none" stroke-width="8.0" stroke-linecap="square" stroke-linejoin="round" shape-rendering="crispEdges">
<polyline points="161.5,2128.0 166.0,2128.0 170.5,2128.0 174.9,2128.0 179.4,2128.0 183.9,2128.0 188.4,2128.0 192.8,2128.0 197.3,2128.0 201.8,2128.0 206.3,2128.0 210.8,2128.0 215.2,2128.0 219.7,2128.0 224.2,2128.0 228.7,2128.0 233.2,2128.0 237.6,2128.0 242.1,2128.0 246.6,2128.0 251.1,2128.0 255.5,2128.0 260.0,2128.0 264.5,2128.0 269.0,2128.0 273.5,2128.0 277.9,2128.0 282.4,2128.0 286.9,2128.0 291.4,2128.0 295.8,2128.0 300.3,2128.0 304.8,2128.0 309.3,2128.0 313.8,2128.0 318.2,2128.0 322.7,2128.0 327.2,2128.0 331.7,2128.0 336.1,2128.0 340.6,2128.0 345.1,2128.0 349.6,2128.0 354.1,2128.0 358.5,2128.0 363.0,2128.0 367.5,2128.0 372.0,2128.0 376.5,2128.0 380.9,2128.0 385.4,2128.0 389.9,2128.0 394.4,2128.0 398.8,2128.0 403.3,2128.0 407.8,2128.0 412.3,2128.0 416.8,2128.0 421.2,2128.0 425.7,2128.0 430.2,2128.0 434.7,2128.0 439.1,2128.0 443.6,2128.0 448.1,2128.0 452.6,2127.9 457.1,2127.9 461.5,2127.9 466.0,2127.9 470.5,2127.9 475.0,2127.9 479.4,2127.9 483.9,2127.9 488.4,2127.9 492.9,2127.9 497.4,2127.9 501.8,2127.9 506.3,2127.9 510.8,2127.8 515.3,2127.8 519.8,2127.8 524.2,2127.8 528.7,2127.8 533.2,2127.8 537.7,2127.8 542.1,2127.7 546.6,2127.7 551.1,2127.7 555.6,2127.7 560.1,2127.7 564.5,2127.6 569.0,2127.6 573.5,2127.6 578.0,2127.5 582.4,2127.5 586.9,2127.5 591.4,2127.5 595.9,2127.4 600.4,2127.4 604.8,2127.3 609.3,2127.3 613.8,2127.3 618.3,2127.2 622.7,2127.2 627.2,2127.1 631.7,2127.1 636.2,2127.0 640.7,2127.0 645.1,2126.9 649.6,2126.8 654.1,2126.8 658.6,2126.7 663.1,2126.6 667.5,2126.5 672.0,2126.5 676.5,2126.4 681.0,2126.3 685.4,2126.2 689.9,2126.1 694.4,2126.0 698.9,2125.9 703.4,2125.8 707.8,2125.7 712.3,2125.6 716.8,2125.5 721.3,2125.3 725.7,2125.2 730.2,2125.1 734.7,2124.9 739.2,2124.8 743.7,2124.6 748.1,2124.5 752.6,2124.3 757.1,2124.1 761.6,2124.0 766.0,2123.8 770.5,2123.6 775.0,2123.4 779.5,2123.2 784.0,2123.0 788.4,2122.7 792.9,2122.5 797.4,2122.3 801.9,2122.0 806.4,2121.8 810.8,2121.5 815.3,2121.2 819.8,2120.9 824.3,2120.6 828.7,2120.3 833.2,2120.0 837.7,2119.7 842.2,2119.4 846.7,2119.0 851.1,2118.7 855.6,2118.3 860.1,2117.9 864.6,2117.5 869.0,2117.1 873.5,2116.7 878.0,2116.3 882.5,2116.0 887.0,2115.7 891.4,2115.4 895.9,2115.1 900.4,2114.7 904.9,2114.4 909.3,2114.0 913.8,2113.7 918.3,2113.3 922.8,2112.9 927.3,2112.5 931.7,2112.1 936.2,2111.7 940.7,2111.3 945.2,2110.9 949.7,2110.4 954.1,2110.0 958.6,2109.6 963.1,2109.1 967.6,2108.6 972.0,2108.2 976.5,2107.7 981.0,2107.2 985.5,2106.7 990.0,2106.1 994.4,2105.6 998.9,2105.0 1003.4,2104.4 1007.9,2103.8 1012.3,2103.2 1016.8,2102.6 1021.3,2101.9 1025.8,2101.2 1030.3,2100.4 1034.7,2099.5 1039.2,2098.6 1043.7,2097.7 1048.2,2096.7 1052.6,2095.7 1057.1,2094.6 1061.6,2093.5 1066.1,2092.3 1070.6,2091.0 1075.0,2089.7 1079.5,2088.4 1084.0,2087.1 1088.5,2085.8 1093.0,2084.4 1097.4,2082.9 1101.9,2081.4 1106.4,2079.9 1110.9,2078.4 1115.3,2076.8 1119.8,2075.2 1124.3,2073.5 1128.8,2071.8 1133.3,2070.0 1137.7,2068.2 1142.2,2066.4 1146.7,2064.6 1151.2,2062.7 1155.6,2060.9 1160.1,2059.0 1164.6,2057.0 1169.1,2055.0 1173.6,2053.0 1178.0,2051.0 1182.5,2049.0 1187.0,2047.0 1191.5,2045.0 1195.9,2042.9 1200.4,2040.7 1204.9,2038.5 1209.4,2036.3 1213.9,2034.0 1218.3,2031.7 1222.8,2029.4 1227.3,2027.0 1231.8,2024.6 1236.2,2022.1 1240.7,2019.5 1245.2,2016.9 1249.7,2014.2 1254.2,2011.3 1258.6,2008.4 1263.1,2005.4 1267.6,2002.3 1272.1,1999.0 1276.6,1995.6 1281.0,1992.1 1285.5,1988.4 1290.0,1984.5 1294.5,1980.5 1298.9,1976.3 1303.4,1971.9 1307.9,1967.4 1312.4,1962.7 1316.9,1957.9 1321.3,1952.8 1325.8,1947.6 1330.3,1942.1 1334.8,1936.5 1339.2,1930.7 1343.7,1924.7 1348.2,1918.6 1352.7,1912.3 1357.2,1905.8 1361.6,1899.1 1366.1,1892.2 1370.6,1885.0 1375.1,1877.5 1379.6,1869.9 1384.0,1862.1 1388.5,1854.2 1393.0,1846.1 1397.5,1837.9 1401.9,1829.5 1406.4,1820.9 1410.9,1812.3 1415.4,1803.6 1419.9,1794.7 1424.3,1785.8 1428.8,1776.7 1433.3,1767.5 1437.8,1758.1 1442.2,1748.6 1446.7,1738.9 1451.2,1729.0 1455.7,1718.9 1460.2,1708.5 1464.6,1697.8 1469.1,1686.8 1473.6,1675.6 1478.1,1664.1 1482.5,1652.4 1487.0,1640.6 1491.5,1628.7 1496.0,1616.4 1500.5,1603.9 1504.9,1591.2 1509.4,1578.3 1513.9,1565.3 1518.4,1552.1 1522.9,1538.6 1527.3,1524.8 1531.8,1510.8 1536.3,1496.8 1540.8,1483.0 1545.2,1469.1 1549.7,1455.3 1554.2,1441.5 1558.7,1427.8 1563.2,1413.5 1567.6,1398.7 1572.1,1383.3 1576.6,1367.2 1581.1,1350.4 1585.5,1332.9 1590.0,1314.9 1594.5,1296.1" stroke="#000000"/>
<polyline points="161.5,2128.0 166.0,2128.0 170.5,2128.0 174.9,2128.0 179.4,2128.0 183.9,2128.0 188.4,2128.0 192.8,2128.0 197.3,2128.0 201.8,2128.0 206.3,2128.0 210.8,2128.0 215.2,2128.0 219.7,2128.0 224.2,2128.0 228.7,2128.0 233.2,2128.0 237.6,2128.0 242.1,2128.0 246.6,2128.0 251.1,2128.0 255.5,2128.0 260.0,2128.0 264.5,2128.0 269.0,2128.0 273.5,2128.0 277.9,2128.0 282.4,2128.0 286.9,2128.0 291.4,2128.0 295.8,2128.0 300.3,2128.0 304.8,2128.0 309.3,2128.0 313.8,2128.0 318.2,2128.0 322.7,2128.0 327.2,2128.0 331.7,2128.0 336.1,2128.0 340.6,2128.0 345.1,2128.0 349.6,2128.0 354.1,2128.0 358.5,2128.0 363.0,2128.0 367.5,2128.0 372.0,2128.0 376.5,2128.0 380.9,2128.0 385.4,2128.0 389.9,2128.0 394.4,2128.0 398.8,2128.0 403.3,2128.0 407.8,2128.0 412.3,2128.0 416.8,2128.0 421.2,2128.0 425.7,2128.0 430.2,2128.0 434.7,2128.0 439.1,2128.0 443.6,2128.0 448.1,2128.0 452.6,2127.9 457.1,2127.9 461.5,2127.9 466.0,2127.9 470.5,2127.9 475.0,2127.9 479.4,2127.9 483.9,2127.9 488.4,2127.9 492.9,2127.9 497.4,2127.9 501.8,2127.9 506.3,2127.9 510.8,2127.8 515.3,2127.8 519.8,2127.8 524.2,2127.8 528.7,2127.8 533.2,2127.8 537.7,2127.8 542.1,2127.7 546.6,2127.7 551.1,2127.7 555.6,2127.7 560.1,2127.7 564.5,2127.6 569.0,2127.6 573.5,2127.6 578.0,2127.6 582.4,2127.5 586.9,2127.5 591.4,2127.5 595.9,2127.4 600.4,2127.4 604.8,2127.4 609.3,2127.3 613.8,2127.3 618.3,2127.2 622.7,2127.2 627.2,2127.1 631.7,2127.1 636.2,2127.0 640.7,2127.0 645.1,2126.9 649.6,2126.9 654.1,2126.8 658.6,2126.7 663.1,2126.7 667.5,2126.6 672.0,2126.5 676.5,2126.4 681.0,2126.4 685.4,2126.3 689.9,2126.2 694.4,2126.1 698.9,2126.0 703.4,2125.9 707.8,2125.8 712.3,2125.7 716.8,2125.6 721.3,2125.4 725.7,2125.3 730.2,2125.2 734.7,2125.0 739.2,2124.9 743.7,2124.8 748.1,2124.6 752.6,2124.4 757.1,2124.3 761.6,2124.1 766.0,2123.9 770.5,2123.7 775.0,2123.6 779.5,2123.4 784.0,2123.2 788.4,2122.9 792.9,2122.7 797.4,2122.5 801.9,2122.3 806.4,2122.0 810.8,2121.8 815.3,2121.5 819.8,2121.2 824.3,2120.9 828.7,2120.6 833.2,2120.3 837.7,2120.0 842.2,2119.7 846.7,2119.4 851.1,2119.0 855.6,2118.7 860.1,2118.3 864.6,2117.9 869.0,2117.5 873.5,2117.1 878.0,2116.7 882.5,2116.4 887.0,2116.2 891.4,2115.9 895.9,2115.5 900.4,2115.2 904.9,2114.9 909.3,2114.6 913.8,2114.2 918.3,2113.9 922.8,2113.5 927.3,2113.1 931.7,2112.8 936.2,2112.4 940.7,2112.0 945.2,2111.6 949.7,2111.2 954.1,2110.8 958.6,2110.4 963.1,2110.0 967.6,2109.6 972.0,2109.1 976.5,2108.7 981.0,2108.2 985.5,2107.8 990.0,2107.3 994.4,2106.8 998.9,2106.3 1003.4,2105.8 1007.9,2105.2 1012.3,2104.7 1016.8,2104.1 1021.3,2103.5 1025.8,2102.8 1030.3,2102.1 1034.7,2101.3 1039.2,2100.5 1043.7,2099.7 1048.2,2098.8 1052.6,2097.8 1057.1,2096.8 1061.6,2095.8 1066.1,2094.6 1070.6,2093.5 1075.0,2092.3 1079.5,2091.1 1084.0,2089.8 1088.5,2088.6 1093.0,2087.3 1097.4,2085.9 1101.9,2084.6 1106.4,2083.1 1110.9,2081.7 1115.3,2080.2 1119.8,2078.6 1124.3,2077.0 1128.8,2075.3 1133.3,2073.6 1137.7,2071.9 1142.2,2070.1 1146.7,2068.3 1151.2,2066.5 1155.6,2064.7 1160.1,2062.8 1164.6,2060.8 1169.1,2058.8 1173.6,2056.8 1178.0,2054.8 1182.5,2052.8 1187.0,2050.8 1191.5,2048.8 1195.9,2046.7 1200.4,2044.5 1204.9,2042.3 1209.4,2040.1 1213.9,2037.8 1218.3,2035.5 1222.8,2033.2 1227.3,2030.8 1231.8,2028.4 1236.2,2025.9 1240.7,2023.3 1245.2,2020.7 1249.7,2018.0 1254.2,2015.1 1258.6,2012.2 1263.1,2009.2 1267.6,2006.0 1272.1,2002.8 1276.6,1999.4 1281.0,1995.9 1285.5,1992.2 1290.0,1988.3 1294.5,1984.2 1298.9,1979.9 1303.4,1975.5 1307.9,1970.9 1312.4,1966.1 1316.9,1961.3 1321.3,1956.6 1325.8,1951.9 1330.3,1947.1 1334.8,1942.3 1339.2,1937.4 1343.7,1932.5 1348.2,1927.6 1352.7,1922.6 1357.2,1917.5 1361.6,1912.2 1366.1,1906.7 1370.6,1901.0 1375.1,1895.1 1379.6,1889.0 1384.0,1882.7 1388.5,1876.2 1393.0,1869.7 1397.5,1863.0 1401.9,1856.2 1406.4,1849.2 1410.9,1842.0 1415.4,1834.4 1419.9,1826.6 1424.3,1818.6 1428.8,1810.3 1433.3,1801.9 1437.8,1793.3 1442.2,1784.5 1446.7,1775.6 1451.2,1766.5 1455.7,1757.1 1460.2,1747.4 1464.6,1737.6 1469.1,1727.6 1473.6,1717.4 1478.1,1706.9 1482.5,1696.1 1487.0,1685.1 1491.5,1673.8 1496.0,1662.3 1500.5,1650.5 1504.9,1638.6 1509.4,1626.4 1513.9,1614.0 1518.4,1601.4 1522.9,1588.5 1527.3,1575.4 1531.8,1561.9 1536.3,1547.9 1540.8,1533.7 1545.2,1519.4 1549.7,1505.0 1554.2,1490.4 1558.7,1475.7 1563.2,1460.6 1567.6,1444.9 1572.1,1428.7 1576.6,1412.3 1581.1,1395.7 1585.5,1379.0 1590.0,1362.2 1594.5,1345.2" stroke="#ff8000" stroke-dasharray="5.00 17.80"/>
<polyline points="161.5,2128.0 166.0,2128.0 170.5,2128.0 174.9,2128.0 179.4,2128.0 183.9,2128.0 188.4,2128.0 192.8,2128.0 197.3,2128.0 201.8,2128.0 206.3,2128.0 210.8,2128.0 215.2,2128.0 219.7,2128.0 224.2,2128.0 228.7,2128.0 233.2,2128.0 237.6,2128.0 242.1,2128.0 246.6,2128.0 251.1,2128.0 255.5,2128.0 260.0,2128.0 264.5,2128.0 269.0,2128.0 273.5,2128.0 277.9,2128.0 282.4,2128.0 286.9,2128.0 291.4,2128.0 295.8,2128.0 300.3,2128.0 304.8,2128.0 309.3,2128.0 313.8,2128.0 318.2,2128.0 322.7,2128.0 327.2,2128.0 331.7,2128.0 336.1,2128.0 340.6,2128.0 345.1,2128.0 349.6,2128.0 354.1,2128.0 358.5,2128.0 363.0,2128.0 367.5,2128.0 372.0,2128.0 376.5,2128.0 380.9,2128.0 385.4,2128.0 389.9,2128.0 394.4,2128.0 398.8,2128.0 403.3,2128.0 407.8,2128.0 412.3,2128.0 416.8,2128.0 421.2,2128.0 425.7,2128.0 430.2,2128.0 434.7,2128.0 439.1,2128.0 443.6,2128.0 448.1,2128.0 452.6,2128.0 457.1,2128.0 461.5,2128.0 466.0,2127.9 470.5,2127.9 475.0,2127.9 479.4,2127.9 483.9,2127.9 488.4,2127.9 492.9,2127.9 497.4,2127.9 501.8,2127.9 506.3,2127.9 510.8,2127.9 515.3,2127.9 519.8,2127.9 524.2,2127.9 528.7,2127.8 533.2,2127.8 537.7,2127.8 542.1,2127.8 546.6,2127.8 551.1,2127.8 555.6,2127.8 560.1,2127.7 564.5,2127.7 569.0,2127.7 573.5,2127.7 578.0,2127.7 582.4,2127.6 586.9,2127.6 591.4,2127.6 595.9,2127.6 600.4,2127.6 604.8,2127.5 609.3,2127.5 613.8,2127.5 618.3,2127.4 622.7,2127.4 627.2,2127.4 631.7,2127.3 636.2,2127.3 640.7,2127.2 645.1,2127.2 649.6,2127.1 654.1,2127.1 658.6,2127.1 663.1,2127.0 667.5,2126.9 672.0,2126.9 676.5,2126.8 681.0,2126.8 685.4,2126.7 689.9,2126.6 694.4,2126.6 698.9,2126.5 703.4,2126.4 707.8,2126.3 712.3,2126.2 716.8,2126.2 721.3,2126.1 725.7,2126.0 730.2,2125.9 734.7,2125.8 739.2,2125.7 743.7,2125.5 748.1,2125.4 752.6,2125.3 757.1,2125.2 761.6,2125.1 766.0,2124.9 770.5,2124.8 775.0,2124.6 779.5,2124.5 784.0,2124.3 788.4,2124.2 792.9,2124.0 797.4,2123.8 801.9,2123.7 806.4,2123.5 810.8,2123.3 815.3,2123.1 819.8,2122.9 824.3,2122.7 828.7,2122.4 833.2,2122.2 837.7,2122.0 842.2,2121.7 846.7,2121.5 851.1,2121.2 855.6,2121.0 860.1,2120.7 864.6,2120.4 869.0,2120.1 873.5,2119.8 878.0,2119.5 882.5,2119.3 887.0,2119.1 891.4,2119.0 895.9,2118.8 900.4,2118.6 904.9,2118.4 909.3,2118.2 913.8,2118.0 918.3,2117.7 922.8,2117.5 927.3,2117.3 931.7,2117.1 936.2,2116.8 940.7,2116.6 945.2,2116.3 949.7,2116.1 954.1,2115.8 958.6,2115.6 963.1,2115.3 967.6,2115.1 972.0,2114.8 976.5,2114.5 981.0,2114.3 985.5,2114.0 990.0,2113.7 994.4,2113.4 998.9,2113.1 1003.4,2112.8 1007.9,2112.6 1012.3,2112.3 1016.8,2112.0 1021.3,2111.7 1025.8,2111.4 1030.3,2111.1 1034.7,2110.7 1039.2,2110.4 1043.7,2110.1 1048.2,2109.7 1052.6,2109.3 1057.1,2108.9 1061.6,2108.5 1066.1,2108.1 1070.6,2107.6 1075.0,2107.1 1079.5,2106.6 1084.0,2106.1 1088.5,2105.5 1093.0,2104.9 1097.4,2104.3 1101.9,2103.6 1106.4,2102.9 1110.9,2102.2 1115.3,2101.4 1119.8,2100.5 1124.3,2099.7 1128.8,2098.7 1133.3,2097.7 1137.7,2096.7 1142.2,2095.6 1146.7,2094.5 1151.2,2093.3 1155.6,2092.0 1160.1,2090.7 1164.6,2089.4 1169.1,2088.1 1173.6,2086.7 1178.0,2085.4 1182.5,2084.0 1187.0,2082.6 1191.5,2081.2 1195.9,2079.8 1200.4,2078.3 1204.9,2076.9 1209.4,2075.4 1213.9,2073.9 1218.3,2072.4 1222.8,2070.9 1227.3,2069.3 1231.8,2067.7 1236.2,2066.0 1240.7,2064.3 1245.2,2062.6 1249.7,2060.9 1254.2,2059.1 1258.6,2057.3 1263.1,2055.4 1267.6,2053.5 1272.1,2051.6 1276.6,2049.7 1281.0,2047.7 1285.5,2045.6 1290.0,2043.5 1294.5,2041.4 1298.9,2039.2 1303.4,2037.0 1307.9,2034.6 1312.4,2032.3 1316.9,2029.8 1321.3,2027.3 1325.8,2024.7 1330.3,2022.0 1334.8,2019.3 1339.2,2016.5 1343.7,2013.7 1348.2,2010.8 1352.7,2007.8 1357.2,2004.7 1361.6,2001.6 1366.1,1998.3 1370.6,1995.0 1375.1,1991.6 1379.6,1988.1 1384.0,1984.5 1388.5,1980.8 1393.0,1977.0 1397.5,1973.1 1401.9,1969.1 1406.4,1965.0 1410.9,1960.8 1415.4,1956.5 1419.9,1952.0 1424.3,1947.5 1428.8,1942.8 1433.3,1937.9 1437.8,1932.9 1442.2,1927.8 1446.7,1922.6 1451.2,1917.3 1455.7,1911.8 1460.2,1906.3 1464.6,1900.7 1469.1,1895.1 1473.6,1889.4 1478.1,1883.7 1482.5,1877.7 1487.0,1871.6 1491.5,1865.3 1496.0,1858.9 1500.5,1852.3 1504.9,1845.6 1509.4,1838.8 1513.9,1831.9 1518.4,1824.8 1522.9,1817.5 1527.3,1809.9 1531.8,1802.2 1536.3,1794.4 1540.8,1786.4 1545.2,1778.2 1549.7,1770.0 1554.2,1761.6 1558.7,1753.1 1563.2,1744.5 1567.6,1735.7 1572.1,1726.8 1576.6,1717.6 1581.1,1708.2 1585.5,1698.7 1590.0,1689.1 1594.5,1679.4" stroke="#0000ff" stroke-dasharray="5.00 17.80 19.00 17.80"/>
<polyline points="161.5,2128.0 166.0,2128.0 170.5,2128.0 174.9,2128.0 179.4,2128.0 183.9,2128.0 188.4,2128.0 192.8,2128.0 197.3,2128.0 201.8,2128.0 206.3,2128.0 210.8,2128.0 215.2,2128.0 219.7,2128.0 224.2,2128.0 228.7,2128.0 233.2,2128.0 237.6,2128.0 242.1,2128.0 246.6,2128.0 251.1,2128.0 255.5,2128.0 260.0,2128.0 264.5,2128.0 269.0,2128.0 273.5,2128.0 277.9,2128.0 282.4,2128.0 286.9,2128.0 291.4,2128.0 295.8,2128.0 300.3,2128.0 304.8,2128.0 309.3,2128.0 313.8,2128.0 318.2,2128.0 322.7,2128.0 327.2,2128.0 331.7,2128.0 336.1,2128.0 340.6,2128.0 345.1,2128.0 349.6,2128.0 354.1,2128.0 358.5,2128.0 363.0,2128.0 367.5,2128.0 372.0,2128.0 376.5,2128.0 380.9,2128.0 385.4,2128.0 389.9,2128.0 394.4,2128.0 398.8,2128.0 403.3,2128.0 407.8,2128.0 412.3,2128.0 416.8,2128.0 421.2,2128.0 425.7,2128.0 430.2,2128.0 434.7,2128.0 439.1,2128.0 443.6,2128.0 448.1,2128.0 452.6,2128.0 457.1,2128.0 461.5,2128.0 466.0,2128.0 470.5,2128.0 475.0,2128.0 479.4,2128.0 483.9,2127.9 488.4,2127.9 492.9,2127.9 497.4,2127.9 501.8,2127.9 506.3,2127.9 510.8,2127.9 515.3,2127.9 519.8,2127.9 524.2,2127.9 528.7,2127.9 533.2,2127.9 537.7,2127.9 542.1,2127.9 546.6,2127.9 551.1,2127.8 555.6,2127.8 560.1,2127.8 564.5,2127.8 569.0,2127.8 573.5,2127.8 578.0,2127.8 582.4,2127.7 586.9,2127.7 591.4,2127.7 595.9,2127.7 600.4,2127.7 604.8,2127.7 609.3,2127.6 613.8,2127.6 618.3,2127.6 622.7,2127.6 627.2,2127.5 631.7,2127.5 636.2,2127.5 640.7,2127.4 645.1,2127.4 649.6,2127.4 654.1,2127.4 658.6,2127.3 663.1,2127.3 667.5,2127.2 672.0,2127.2 676.5,2127.2 681.0,2127.1 685.4,2127.1 689.9,2127.0 694.4,2127.0 698.9,2126.9 703.4,2126.8 707.8,2126.8 712.3,2126.7 716.8,2126.7 721.3,2126.6 725.7,2126.5 730.2,2126.5 734.7,2126.4 739.2,2126.3 743.7,2126.2 748.1,2126.1 752.6,2126.1 757.1,2126.0 761.6,2125.9 766.0,2125.8 770.5,2125.7 775.0,2125.6 779.5,2125.5 784.0,2125.4 788.4,2125.2 792.9,2125.1 797.4,2125.0 801.9,2124.9 806.4,2124.7 810.8,2124.6 815.3,2124.4 819.8,2124.3 824.3,2124.1 828.7,2124.0 833.2,2123.8 837.7,2123.7 842.2,2123.5 846.7,2123.3 851.1,2123.1 855.6,2122.9 860.1,2122.7 864.6,2122.5 869.0,2122.3 873.5,2122.1 878.0,2121.8 882.5,2121.8 887.0,2121.7 891.4,2121.6 895.9,2121.5 900.4,2121.3 904.9,2121.2 909.3,2121.1 913.8,2121.0 918.3,2120.8 922.8,2120.7 927.3,2120.5 931.7,2120.4 936.2,2120.2 940.7,2120.1 945.2,2119.9 949.7,2119.7 954.1,2119.5 958.6,2119.4 963.1,2119.2 967.6,2119.0 972.0,2118.8 976.5,2118.6 981.0,2118.4 985.5,2118.2 990.0,2118.0 994.4,2117.8 998.9,2117.6 1003.4,2117.4 1007.9,2117.2 1012.3,2116.9 1016.8,2116.7 1021.3,2116.5 1025.8,2116.3 1030.3,2116.0 1034.7,2115.8 1039.2,2115.5 1043.7,2115.3 1048.2,2115.0 1052.6,2114.7 1057.1,2114.4 1061.6,2114.1 1066.1,2113.8 1070.6,2113.5 1075.0,2113.2 1079.5,2112.8 1084.0,2112.5 1088.5,2112.1 1093.0,2111.7 1097.4,2111.3 1101.9,2110.9 1106.4,2110.4 1110.9,2109.9 1115.3,2109.5 1119.8,2109.0 1124.3,2108.4 1128.8,2107.9 1133.3,2107.3 1137.7,2106.7 1142.2,2106.0 1146.7,2105.4 1151.2,2104.7 1155.6,2104.0 1160.1,2103.3 1164.6,2102.6 1169.1,2101.8 1173.6,2101.0 1178.0,2100.2 1182.5,2099.3 1187.0,2098.5 1191.5,2097.6 1195.9,2096.7 1200.4,2095.8 1204.9,2094.8 1209.4,2093.8 1213.9,2092.9 1218.3,2091.8 1222.8,2090.8 1227.3,2089.8 1231.8,2088.7 1236.2,2087.6 1240.7,2086.5 1245.2,2085.4 1249.7,2084.2 1254.2,2083.0 1258.6,2081.9 1263.1,2080.6 1267.6,2079.4 1272.1,2078.2 1276.6,2076.9 1281.0,2075.6 1285.5,2074.3 1290.0,2072.9 1294.5,2071.5 1298.9,2070.1 1303.4,2068.6 1307.9,2067.0 1312.4,2065.5 1316.9,2063.8 1321.3,2062.2 1325.8,2060.5 1330.3,2058.8 1334.8,2057.0 1339.2,2055.2 1343.7,2053.3 1348.2,2051.4 1352.7,2049.5 1357.2,2047.5 1361.6,2045.5 1366.1,2043.4 1370.6,2041.3 1375.1,2039.2 1379.6,2037.1 1384.0,2034.9 1388.5,2032.6 1393.0,2030.3 1397.5,2027.9 1401.9,2025.5 1406.4,2023.0 1410.9,2020.5 1415.4,2017.9 1419.9,2015.3 1424.3,2012.5 1428.8,2009.7 1433.3,2006.9 1437.8,2003.9 1442.2,2000.9 1446.7,1997.8 1451.2,1994.6 1455.7,1991.4 1460.2,1988.1 1464.6,1984.7 1469.1,1981.2 1473.6,1977.6 1478.1,1974.0 1482.5,1970.3 1487.0,1966.4 1491.5,1962.6 1496.0,1958.6 1500.5,1954.5 1504.9,1950.3 1509.4,1946.1 1513.9,1941.7 1518.4,1937.3 1522.9,1932.7 1527.3,1928.0 1531.8,1923.3 1536.3,1918.4 1540.8,1913.5 1545.2,1908.5 1549.7,1903.4 1554.2,1898.3 1558.7,1893.1 1563.2,1887.8 1567.6,1882.5 1572.1,1877.1 1576.6,1871.7 1581.1,1866.3 1585.5,1860.8 1590.0,1855.3 1594.5,1849.7" stroke="#ff0000" stroke-dasharray="19.00 17.80"/>
<polyline points="161.5,2128.0 166.0,2128.0 170.5,2128.0 174.9,2128.0 179.4,2128.0 183.9,2128.0 188.4,2128.0 192.8,2128.0 197.3,2128.0 201.8,2128.0 206.3,2128.0 210.8,2128.0 215.2,2128.0 219.7,2128.0 224.2,2128.0 228.7,2128.0 233.2,2128.0 237.6,2128.0 242.1,2128.0 246.6,2128.0 251.1,2128.0 255.5,2128.0 260.0,2128.0 264.5,2128.0 269.0,2128.0 273.5,2128.0 277.9,2128.0 282.4,2128.0 286.9,2128.0 291.4,2128.0 295.8,2128.0 300.3,2128.0 304.8,2128.0 309.3,2128.0 313.8,2128.0 318.2,2128.0 322.7,2128.0 327.2,2128.0 331.7,2128.0 336.1,2128.0 340.6,2128.0 345.1,2128.0 349.6,2128.0 354.1,2128.0 358.5,2128.0 363.0,2128.0 367.5,2128.0 372.0,2128.0 376.5,2128.0 380.9,2128.0 385.4,2128.0 389.9,2128.0 394.4,2128.0 398.8,2128.0 403.3,2128.0 407.8,2128.0 412.3,2128.0 416.8,2128.0 421.2,2128.0 425.7,2128.0 430.2,2128.0 434.7,2128.0 439.1,2128.0 443.6,2128.0 448.1,2128.0 452.6,2128.0 457.1,2128.0 461.5,2128.0 466.0,2128.0 470.5,2128.0 475.0,2128.0 479.4,2128.0 483.9,2128.0 488.4,2128.0 492.9,2128.0 497.4,2127.9 501.8,2127.9 506.3,2127.9 510.8,2127.9 515.3,2127.9 519.8,2127.9 524.2,2127.9 528.7,2127.9 533.2,2127.9 537.7,2127.9 542.1,2127.9 546.6,2127.9 551.1,2127.9 555.6,2127.9 560.1,2127.9 564.5,2127.8 569.0,2127.8 573.5,2127.8 578.0,2127.8 582.4,2127.8 586.9,2127.8 591.4,2127.8 595.9,2127.8 600.4,2127.7 604.8,2127.7 609.3,2127.7 613.8,2127.7 618.3,2127.7 622.7,2127.6 627.2,2127.6 631.7,2127.6 636.2,2127.6 640.7,2127.6 645.1,2127.5 649.6,2127.5 654.1,2127.5 658.6,2127.5 663.1,2127.4 667.5,2127.4 672.0,2127.4 676.5,2127.3 681.0,2127.3 685.4,2127.2 689.9,2127.2 694.4,2127.2 698.9,2127.1 703.4,2127.1 707.8,2127.0 712.3,2127.0 716.8,2126.9 721.3,2126.9 725.7,2126.8 730.2,2126.8 734.7,2126.7 739.2,2126.6 743.7,2126.6 748.1,2126.5 752.6,2126.4 757.1,2126.4 761.6,2126.3 766.0,2126.2 770.5,2126.1 775.0,2126.1 779.5,2126.0 784.0,2125.9 788.4,2125.8 792.9,2125.7 797.4,2125.6 801.9,2125.5 806.4,2125.4 810.8,2125.3 815.3,2125.2 819.8,2125.0 824.3,2124.9 828.7,2124.8 833.2,2124.7 837.7,2124.5 842.2,2124.4 846.7,2124.2 851.1,2124.1 855.6,2123.9 860.1,2123.8 864.6,2123.6 869.0,2123.4 873.5,2123.3 878.0,2123.1 882.5,2123.0 887.0,2123.0 891.4,2122.9 895.9,2122.9 900.4,2122.8 904.9,2122.7 909.3,2122.6 913.8,2122.6 918.3,2122.5 922.8,2122.4 927.3,2122.3 931.7,2122.2 936.2,2122.1 940.7,2122.0 945.2,2121.8 949.7,2121.7 954.1,2121.6 958.6,2121.5 963.1,2121.3 967.6,2121.2 972.0,2121.1 976.5,2120.9 981.0,2120.8 985.5,2120.6 990.0,2120.5 994.4,2120.3 998.9,2120.2 1003.4,2120.0 1007.9,2119.9 1012.3,2119.7 1016.8,2119.5 1021.3,2119.4 1025.8,2119.2 1030.3,2119.0 1034.7,2118.9 1039.2,2118.7 1043.7,2118.5 1048.2,2118.3 1052.6,2118.0 1057.1,2117.8 1061.6,2117.6 1066.1,2117.4 1070.6,2117.1 1075.0,2116.8 1079.5,2116.6 1084.0,2116.3 1088.5,2116.0 1093.0,2115.7 1097.4,2115.5 1101.9,2115.2 1106.4,2114.8 1110.9,2114.5 1115.3,2114.1 1119.8,2113.7 1124.3,2113.3 1128.8,2112.8 1133.3,2112.4 1137.7,2111.9 1142.2,2111.4 1146.7,2110.9 1151.2,2110.4 1155.6,2109.9 1160.1,2109.4 1164.6,2108.8 1169.1,2108.2 1173.6,2107.6 1178.0,2107.0 1182.5,2106.4 1187.0,2105.7 1191.5,2105.1 1195.9,2104.4 1200.4,2103.7 1204.9,2103.0 1209.4,2102.3 1213.9,2101.6 1218.3,2100.9 1222.8,2100.2 1227.3,2099.4 1231.8,2098.7 1236.2,2097.9 1240.7,2097.1 1245.2,2096.3 1249.7,2095.5 1254.2,2094.7 1258.6,2093.9 1263.1,2093.0 1267.6,2092.1 1272.1,2091.2 1276.6,2090.3 1281.0,2089.4 1285.5,2088.4 1290.0,2087.4 1294.5,2086.4 1298.9,2085.3 1303.4,2084.2 1307.9,2083.1 1312.4,2081.9 1316.9,2080.7 1321.3,2079.5 1325.8,2078.2 1330.3,2076.9 1334.8,2075.5 1339.2,2074.1 1343.7,2072.6 1348.2,2071.2 1352.7,2069.7 1357.2,2068.3 1361.6,2066.9 1366.1,2065.5 1370.6,2064.0 1375.1,2062.5 1379.6,2061.0 1384.0,2059.5 1388.5,2057.9 1393.0,2056.3 1397.5,2054.6 1401.9,2052.8 1406.4,2051.0 1410.9,2049.2 1415.4,2047.3 1419.9,2045.3 1424.3,2043.3 1428.8,2041.3 1433.3,2039.2 1437.8,2037.2 1442.2,2035.1 1446.7,2032.9 1451.2,2030.7 1455.7,2028.4 1460.2,2026.1 1464.6,2023.8 1469.1,2021.3 1473.6,2018.8 1478.1,2016.3 1482.5,2013.6 1487.0,2010.9 1491.5,2008.2 1496.0,2005.4 1500.5,2002.5 1504.9,1999.6 1509.4,1996.6 1513.9,1993.6 1518.4,1990.5 1522.9,1987.3 1527.3,1984.1 1531.8,1980.8 1536.3,1977.5 1540.8,1974.1 1545.2,1970.7 1549.7,1967.2 1554.2,1963.8 1558.7,1960.2 1563.2,1956.7 1567.6,1953.1 1572.1,1949.5 1576.6,1945.8 1581.1,1942.2 1585.5,1938.5 1590.0,1934.8 1594.5,1931.0" stroke="#00ff00" stroke-dasharray="5.00 17.80"/>
<polyline points="161.5,2128.0 166.0,2128.0 170.5,2128.0 174.9,2128.0 179.4,2128.0 183.9,2128.0 188.4,2128.0 192.8,2128.0 197.3,2128.0 201.8,2128.0 206.3,2128.0 210.8,2128.0 215.2,2128.0 219.7,2128.0 224.2,2128.0 228.7,2128.0 233.2,2128.0 237.6,2128.0 242.1,2128.0 246.6,2128.0 251.1,2128.0 255.5,2128.0 260.0,2128.0 264.5,2128.0 269.0,2128.0 273.5,2128.0 277.9,2128.0 282.4,2128.0 286.9,2128.0 291.4,2128.0 295.8,2128.0 300.3,2128.0 304.8,2128.0 309.3,2128.0 313.8,2128.0 318.2,2128.0 322.7,2128.0 327.2,2128.0 331.7,2128.0 336.1,2128.0 340.6,2128.0 345.1,2128.0 349.6,2128.0 354.1,2128.0 358.5,2128.0 363.0,2128.0 367.5,2128.0 372.0,2128.0 376.5,2128.0 380.9,2128.0 385.4,2128.0 389.9,2128.0 394.4,2128.0 398.8,2128.0 403.3,2128.0 407.8,2128.0 412.3,2128.0 416.8,2128.0 421.2,2128.0 425.7,2128.0 430.2,2128.0 434.7,2128.0 439.1,2128.0 443.6,2128.0 448.1,2128.0 452.6,2128.0 457.1,2128.0 461.5,2128.0 466.0,2128.0 470.5,2128.0 475.0,2128.0 479.4,2128.0 483.9,2128.0 488.4,2128.0 492.9,2128.0 497.4,2128.0 501.8,2128.0 506.3,2127.9 510.8,2127.9 515.3,2127.9 519.8,2127.9 524.2,2127.9 528.7,2127.9 533.2,2127.9 537.7,2127.9 542.1,2127.9 546.6,2127.9 551.1,2127.9 555.6,2127.9 560.1,2127.9 564.5,2127.9 569.0,2127.9 573.5,2127.8 578.0,2127.8 582.4,2127.8 586.9,2127.8 591.4,2127.8 595.9,2127.8 600.4,2127.8 604.8,2127.8 609.3,2127.7 613.8,2127.7 618.3,2127.7 622.7,2127.7 627.2,2127.7 631.7,2127.7 636.2,2127.6 640.7,2127.6 645.1,2127.6 649.6,2127.6 654.1,2127.6 658.6,2127.5 663.1,2127.5 667.5,2127.5 672.0,2127.4 676.5,2127.4 681.0,2127.4 685.4,2127.3 689.9,2127.3 694.4,2127.3 698.9,2127.2 703.4,2127.2 707.8,2127.2 712.3,2127.1 716.8,2127.1 721.3,2127.0 725.7,2127.0 730.2,2126.9 734.7,2126.9 739.2,2126.8 743.7,2126.8 748.1,2126.7 752.6,2126.7 757.1,2126.6 761.6,2126.5 766.0,2126.5 770.5,2126.4 775.0,2126.3 779.5,2126.2 784.0,2126.2 788.4,2126.1 792.9,2126.0 797.4,2125.9 801.9,2125.8 806.4,2125.7 810.8,2125.6 815.3,2125.5 819.8,2125.4 824.3,2125.3 828.7,2125.2 833.2,2125.1 837.7,2125.0 842.2,2124.9 846.7,2124.7 851.1,2124.6 855.6,2124.5 860.1,2124.3 864.6,2124.2 869.0,2124.1 873.5,2123.9 878.0,2123.7 882.5,2123.7 887.0,2123.6 891.4,2123.5 895.9,2123.5 900.4,2123.4 904.9,2123.3 909.3,2123.2 913.8,2123.2 918.3,2123.1 922.8,2123.0 927.3,2122.9 931.7,2122.8 936.2,2122.7 940.7,2122.6 945.2,2122.5 949.7,2122.5 954.1,2122.4 958.6,2122.3 963.1,2122.2 967.6,2122.1 972.0,2122.0 976.5,2121.8 981.0,2121.7 985.5,2121.6 990.0,2121.5 994.4,2121.4 998.9,2121.3 1003.4,2121.2 1007.9,2121.1 1012.3,2121.0 1016.8,2120.9 1021.3,2120.8 1025.8,2120.6 1030.3,2120.5 1034.7,2120.4 1039.2,2120.3 1043.7,2120.1 1048.2,2120.0 1052.6,2119.8 1057.1,2119.7 1061.6,2119.5 1066.1,2119.3 1070.6,2119.2 1075.0,2119.0 1079.5,2118.7 1084.0,2118.5 1088.5,2118.3 1093.0,2118.1 1097.4,2117.8 1101.9,2117.5 1106.4,2117.3 1110.9,2117.0 1115.3,2116.7 1119.8,2116.4 1124.3,2116.1 1128.8,2115.8 1133.3,2115.4 1137.7,2115.1 1142.2,2114.8 1146.7,2114.4 1151.2,2114.0 1155.6,2113.7 1160.1,2113.3 1164.6,2112.9 1169.1,2112.5 1173.6,2112.1 1178.0,2111.7 1182.5,2111.2 1187.0,2110.8 1191.5,2110.3 1195.9,2109.8 1200.4,2109.3 1204.9,2108.8 1209.4,2108.2 1213.9,2107.7 1218.3,2107.1 1222.8,2106.5 1227.3,2105.8 1231.8,2105.2 1236.2,2104.5 1240.7,2103.9 1245.2,2103.2 1249.7,2102.5 1254.2,2101.7 1258.6,2101.0 1263.1,2100.3 1267.6,2099.5 1272.1,2098.7 1276.6,2098.0 1281.0,2097.2 1285.5,2096.4 1290.0,2095.6 1294.5,2094.7 1298.9,2093.9 1303.4,2093.0 1307.9,2092.1 1312.4,2091.2 1316.9,2090.3 1321.3,2089.3 1325.8,2088.2 1330.3,2087.2 1334.8,2086.1 1339.2,2084.9 1343.7,2083.8 1348.2,2082.6 1352.7,2081.4 1357.2,2080.1 1361.6,2078.9 1366.1,2077.7 1370.6,2076.5 1375.1,2075.2 1379.6,2074.0 1384.0,2072.7 1388.5,2071.4 1393.0,2070.0 1397.5,2068.7 1401.9,2067.3 1406.4,2065.9 1410.9,2064.5 1415.4,2063.0 1419.9,2061.4 1424.3,2059.9 1428.8,2058.3 1433.3,2056.6 1437.8,2054.9 1442.2,2053.2 1446.7,2051.4 1451.2,2049.6 1455.7,2047.7 1460.2,2045.8 1464.6,2043.9 1469.1,2041.9 1473.6,2039.9 1478.1,2037.9 1482.5,2035.9 1487.0,2033.8 1491.5,2031.7 1496.0,2029.6 1500.5,2027.4 1504.9,2025.3 1509.4,2023.0 1513.9,2020.8 1518.4,2018.5 1522.9,2016.1 1527.3,2013.7 1531.8,2011.3 1536.3,2008.8 1540.8,2006.3 1545.2,2003.8 1549.7,2001.3 1554.2,1998.7 1558.7,1996.1 1563.2,1993.4 1567.6,1990.8 1572.1,1988.1 1576.6,1985.3 1581.1,1982.5 1585.5,1979.7 1590.0,1976.8 1594.5,1973.7" stroke="#996633" stroke-dasharray="5.00 17.80 19.00 17.80"/>
</g>
<g stroke="#666666" stroke-width="1.3" fill="none">
<line x1="131.2" y1="2128.5" x2="1625.0" y2="2128.5"/>
<line x1="161.5" y1="1250.8" x2="161.5" y2="2174.9"/>
<path d="M233.50 2128.5v-11.5M304.50 2128.5v-11.5M376.50 2128.5v-11.5M448.50 2128.5v-11.5M519.50 2128.5v-18.5M591.50 2128.5v-11.5M663.50 2128.5v-11.5M734.50 2128.5v-11.5M806.50 2128.5v-11.5M878.50 2128.5v-18.5M949.50 2128.5v-11.5M1021.50 2128.5v-11.5M1092.50 2128.5v-11.5M1164.50 2128.5v-11.5M1236.50 2128.5v-18.5M1307.50 2128.5v-11.5M1379.50 2128.5v-11.5M1451.50 2128.5v-11.5M1522.50 2128.5v-11.5M1594.50 2128.5v-18.5M161.5 2081.50h11.4M161.5 2033.50h11.4M161.5 1986.50h11.4M161.5 1939.50h18.4M161.5 1891.50h11.4M161.5 1844.50h11.4M161.5 1797.50h11.4M161.5 1749.50h18.4M161.5 1702.50h11.4M161.5 1655.50h11.4M161.5 1607.50h11.4M161.5 1560.50h18.4M161.5 1513.50h11.4M161.5 1465.50h11.4M161.5 1418.50h11.4M161.5 1371.50h18.4M161.5 1323.50h11.4M161.5 1276.50h11.4"/>
</g>
<text transform="translate(472.14,2205.50) scale(1.0000,1.0400)" font-family="Liberation Sans, sans-serif" font-size="68.5" font-weight="bold" text-anchor="start" fill="#666666">0.5</text>
<text transform="translate(830.39,2205.50) scale(1.0000,1.0400)" font-family="Liberation Sans, sans-serif" font-size="68.5" font-weight="bold" text-anchor="start" fill="#666666">1.0</text>
<rect x="833.50" y="2197.33" width="12.72" height="9.07" fill="#fff"/>
<rect x="855.92" y="2197.33" width="11.85" height="9.07" fill="#fff"/>
<text transform="translate(1188.64,2205.50) scale(1.0000,1.0400)" font-family="Liberation Sans, sans-serif" font-size="68.5" font-weight="bold" text-anchor="start" fill="#666666">1.5</text>
<rect x="1191.75" y="2197.33" width="12.72" height="9.07" fill="#fff"/>
<rect x="1214.17" y="2197.33" width="11.85" height="9.07" fill="#fff"/>
<text transform="translate(1546.89,2205.50) scale(1.0000,1.0400)" font-family="Liberation Sans, sans-serif" font-size="68.5" font-weight="bold" text-anchor="start" fill="#666666">2.0</text>
<text transform="translate(110.90,1962.20) scale(1.0000,1.0400)" font-family="Liberation Sans, sans-serif" font-size="68.5" font-weight="bold" text-anchor="start" fill="#666666">2</text>
<text transform="translate(110.90,1772.90) scale(1.0000,1.0400)" font-family="Liberation Sans, sans-serif" font-size="68.5" font-weight="bold" text-anchor="start" fill="#666666">4</text>
<text transform="translate(110.90,1583.60) scale(1.0000,1.0400)" font-family="Liberation Sans, sans-serif" font-size="68.5" font-weight="bold" text-anchor="start" fill="#666666">6</text>
<text transform="translate(110.90,1394.30) scale(1.0000,1.0400)" font-family="Liberation Sans, sans-serif" font-size="68.5" font-weight="bold" text-anchor="start" fill="#666666">8</text>
<text transform="translate(1661.30,2151.70)" font-family="Liberation Sans, sans-serif" font-size="75" font-weight="bold" text-anchor="start" fill="#666666">t</text>
<g fill="none" stroke-width="7.9" stroke-linecap="butt" shape-rendering="crispEdges">
<line x1="1752" y1="1440.80" x2="1932" y2="1440.80" stroke="#000000"/>
<line x1="1752" y1="1536.90" x2="1925" y2="1536.90" stroke="#ff8000" stroke-dasharray="13 9.85"/>
<line x1="1752" y1="1633.00" x2="1921" y2="1633.00" stroke="#0000ff" stroke-dasharray="13 9.8 27 9.8"/>
<line x1="1752" y1="1729.10" x2="1925" y2="1729.10" stroke="#ff0000" stroke-dasharray="27 9.75"/>
<line x1="1752" y1="1825.20" x2="1925" y2="1825.20" stroke="#00ff00" stroke-dasharray="13 9.85"/>
<line x1="1752" y1="1921.30" x2="1921" y2="1921.30" stroke="#996633" stroke-dasharray="13 9.8 27 9.8"/>
</g>
<text transform="translate(0,1461.90) scale(1,1.035)" font-family="Liberation Sans, sans-serif" font-size="59" font-weight="bold" fill="#000"><tspan x="1972.4" y="-0.58" font-style="italic" font-size="56">τ</tspan><tspan x="1994.65" y="2.90">=</tspan><tspan x="2031.56" y="0">0</tspan></text>
<text transform="translate(0,1558.00) scale(1,1.035)" font-family="Liberation Sans, sans-serif" font-size="59" font-weight="bold" fill="#000"><tspan x="1972.4" y="-0.58" font-style="italic" font-size="56">τ</tspan><tspan x="1994.65" y="2.90">=</tspan><tspan x="2031.56" y="0">0.01</tspan></text>
<rect x="2116.10" y="1550.87" width="11.10" height="8.03" fill="#fff"/>
<rect x="2135.60" y="1550.87" width="10.35" height="8.03" fill="#fff"/>
<text transform="translate(0,1654.10) scale(1,1.035)" font-family="Liberation Sans, sans-serif" font-size="59" font-weight="bold" fill="#000"><tspan x="1972.4" y="-0.58" font-style="italic" font-size="56">τ</tspan><tspan x="1994.65" y="2.90">=</tspan><tspan x="2031.56" y="0">0.1</tspan></text>
<rect x="2083.28" y="1646.97" width="11.10" height="8.03" fill="#fff"/>
<rect x="2102.78" y="1646.97" width="10.35" height="8.03" fill="#fff"/>
<text transform="translate(0,1750.20) scale(1,1.035)" font-family="Liberation Sans, sans-serif" font-size="59" font-weight="bold" fill="#000"><tspan x="1972.4" y="-0.58" font-style="italic" font-size="56">τ</tspan><tspan x="1994.65" y="2.90">=</tspan><tspan x="2031.56" y="0">0.2</tspan></text>
<text transform="translate(0,1846.30) scale(1,1.035)" font-family="Liberation Sans, sans-serif" font-size="59" font-weight="bold" fill="#000"><tspan x="1972.4" y="-0.58" font-style="italic" font-size="56">τ</tspan><tspan x="1994.65" y="2.90">=</tspan><tspan x="2031.56" y="0">0.3</tspan></text>
<text transform="translate(0,1942.40) scale(1,1.035)" font-family="Liberation Sans, sans-serif" font-size="59" font-weight="bold" fill="#000"><tspan x="1972.4" y="-0.58" font-style="italic" font-size="56">τ</tspan><tspan x="1994.65" y="2.90">=</tspan><tspan x="2031.56" y="0">0.4</tspan></text>
<text transform="translate(43.50,98.20) scale(1.1170,1.0000)" font-family="DejaVu Sans, sans-serif" font-size="63.9" font-weight="bold" stroke="#666666" stroke-width="3.4" stroke-linejoin="miter" text-anchor="start" fill="#666666">𝔼</text>
<text font-family="Liberation Sans, sans-serif" font-weight="bold" fill="#666666"><tspan x="94.35" y="99.80" font-size="68.5">[</tspan><tspan x="117.01" y="99.80" font-size="68.5" font-style="italic">x</tspan><tspan x="157.71" y="109.80" font-size="46.5" font-style="italic">τ</tspan><tspan x="180.79" y="99.80" font-size="68.5">(</tspan><tspan x="202.99" y="99.80" font-size="75">t</tspan><tspan x="227.93" y="99.80" font-size="68.5">)</tspan><tspan x="248.46" y="99.80" font-size="68.5">]</tspan></text>
<text transform="translate(46.50,1204.10) scale(1.1170,1.0000)" font-family="DejaVu Sans, sans-serif" font-size="63.9" font-weight="bold" stroke="#666666" stroke-width="3.4" stroke-linejoin="miter" text-anchor="start" fill="#666666">𝕍</text>
<text font-family="Liberation Sans, sans-serif" font-weight="bold" fill="#666666"><tspan x="103.35" y="1205.50" font-size="68.5">[</tspan><tspan x="126.01" y="1205.50" font-size="68.5" font-style="italic">x</tspan><tspan x="166.71" y="1215.50" font-size="46.5" font-style="italic">τ</tspan><tspan x="189.79" y="1205.50" font-size="68.5">(</tspan><tspan x="211.99" y="1205.50" font-size="75">t</tspan><tspan x="236.93" y="1205.50" font-size="68.5">)</tspan><tspan x="257.46" y="1205.50" font-size="68.5">]</tspan></text>
</svg></body></html>
